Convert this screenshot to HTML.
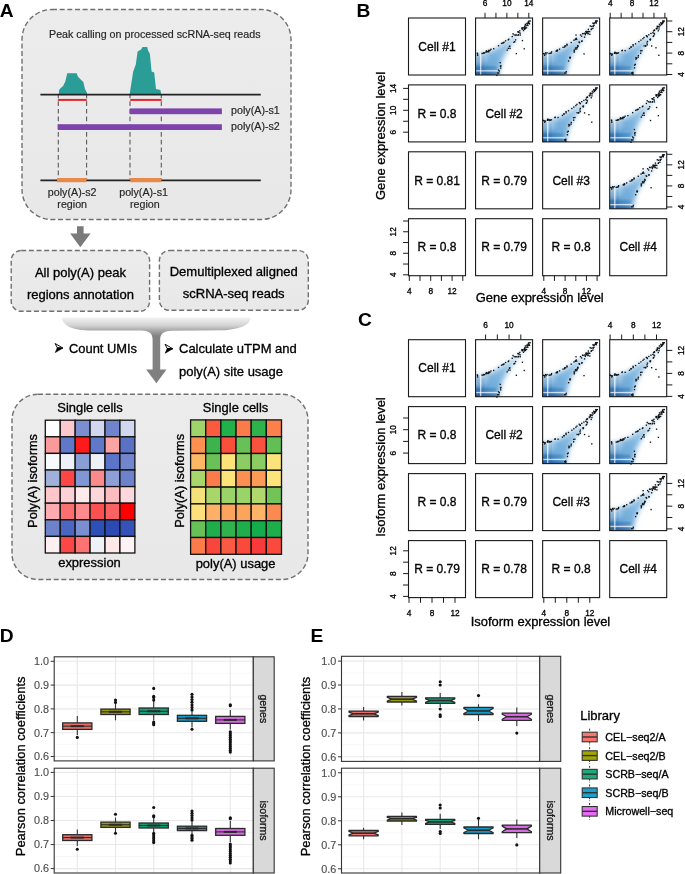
<!DOCTYPE html>
<html><head><meta charset="utf-8"><style>
html,body{margin:0;padding:0;background:#fff;}
svg{display:block;opacity:0.999;}
text{font-family:"Liberation Sans", sans-serif;}
</style></head><body>
<svg width="685" height="874" viewBox="0 0 685 874">
<defs>
<linearGradient id="bgg" x1="0" y1="0" x2="0" y2="1"><stop offset="0" stop-color="#ececec"/><stop offset="1" stop-color="#e8e8e8"/></linearGradient>
<linearGradient id="brg" x1="0" y1="317" x2="0" y2="336" gradientUnits="userSpaceOnUse"><stop offset="0" stop-color="#f5f5f5"/><stop offset="0.45" stop-color="#d2d2d2"/><stop offset="0.72" stop-color="#a6a6a6"/><stop offset="1" stop-color="#828282"/></linearGradient>
<linearGradient id="scg" x1="0" y1="57" x2="52" y2="4" gradientUnits="userSpaceOnUse"><stop offset="0" stop-color="#5b9bd0"/><stop offset="0.35" stop-color="#78b1dd"/><stop offset="0.65" stop-color="#a0cae9"/><stop offset="1" stop-color="#d5e9f7"/></linearGradient>
<radialGradient id="scr" cx="0" cy="0" r="1" gradientUnits="userSpaceOnUse" gradientTransform="translate(-1 59) scale(27 17)"><stop offset="0" stop-color="#154d8d" stop-opacity="0.9"/><stop offset="0.55" stop-color="#2a6cae" stop-opacity="0.5"/><stop offset="1" stop-color="#5b9ace" stop-opacity="0"/></radialGradient>
<filter id="blur1" x="-10%" y="-50%" width="120%" height="200%"><feGaussianBlur stdDeviation="0.8"/></filter>
<clipPath id="pclip"><rect x="0" y="0" width="57" height="57"/></clipPath>
<filter id="blur" x="-20%" y="-20%" width="140%" height="140%"><feGaussianBlur stdDeviation="2.6"/></filter>

</defs>
<text x="-0.30" y="16.90" font-size="19.2" fill="#000" text-anchor="start" font-weight="bold">A</text>
<rect x="22" y="9.5" width="269" height="210" rx="30" ry="30" stroke="#707070" stroke-width="1.4" stroke-dasharray="5 2.66" fill="url(#bgg)"/>
<text x="49.00" y="37.70" font-size="10.7" fill="#262626" text-anchor="start" stroke="#262626" stroke-width="0.18">Peak calling on processed scRNA-seq reads</text>
<polygon fill="#2a9d96" points="58.8,94 59.1,89.9 60.5,88.2 63.1,85.9 65.4,81.2 67.2,73.3 76.6,73.3 78,76.8 80.7,79.4 83.3,82 85,89 86.8,92.6 87.1,94"/>
<polygon fill="#2a9d96" points="129.7,94 131,85.5 133.2,71.5 135.8,64.5 137.6,51.4 141.1,49.6 142.5,47 147.2,47 148.1,50.5 149.9,54 151.6,71.5 154.2,72.4 156,89 160.4,90 161.2,94"/>
<line x1="58.3" y1="95" x2="58.3" y2="179" stroke="#5a5a5a" stroke-width="1.1" stroke-dasharray="4.7 3" stroke-dashoffset="1.5"/>
<line x1="86.6" y1="95" x2="86.6" y2="179" stroke="#5a5a5a" stroke-width="1.1" stroke-dasharray="4.7 3" stroke-dashoffset="1.5"/>
<line x1="130.0" y1="95" x2="130.0" y2="179" stroke="#5a5a5a" stroke-width="1.1" stroke-dasharray="4.7 3" stroke-dashoffset="1.5"/>
<line x1="161.3" y1="95" x2="161.3" y2="179" stroke="#5a5a5a" stroke-width="1.1" stroke-dasharray="4.7 3" stroke-dashoffset="1.5"/>
<line x1="40.4" y1="94.6" x2="260.8" y2="94.6" stroke="#222" stroke-width="1.8"/>
<line x1="57.9" y1="99.9" x2="86.8" y2="99.9" stroke="#e8242a" stroke-width="2"/>
<line x1="130.2" y1="99.9" x2="161.6" y2="99.9" stroke="#e8242a" stroke-width="2"/>
<rect x="129.8" y="108.4" width="92.1" height="5.8" fill="#7f44ac"/>
<rect x="57.8" y="124.2" width="164.1" height="5.8" fill="#7f44ac"/>
<text x="231.10" y="114.00" font-size="10.7" fill="#262626" text-anchor="start" stroke="#262626" stroke-width="0.18">poly(A)-s1</text>
<text x="231.10" y="130.00" font-size="10.7" fill="#262626" text-anchor="start" stroke="#262626" stroke-width="0.18">poly(A)-s2</text>
<line x1="40.4" y1="180.3" x2="260.8" y2="180.3" stroke="#222" stroke-width="1.8"/>
<rect x="57" y="178" width="29.5" height="4.2" fill="#e8894a"/>
<rect x="130.3" y="178" width="31" height="4.2" fill="#e8894a"/>
<text x="72.20" y="195.50" font-size="10.7" fill="#262626" text-anchor="middle" stroke="#262626" stroke-width="0.18">poly(A)-s2</text>
<text x="72.20" y="208.00" font-size="10.7" fill="#262626" text-anchor="middle" stroke="#262626" stroke-width="0.18">region</text>
<text x="143.60" y="195.50" font-size="10.7" fill="#262626" text-anchor="middle" stroke="#262626" stroke-width="0.18">poly(A)-s1</text>
<text x="144.80" y="208.00" font-size="10.7" fill="#262626" text-anchor="middle" stroke="#262626" stroke-width="0.18">region</text>
<polygon fill="#7a7a7a" points="77,226.2 83.6,226.2 83.6,233.6 90.6,233.6 80.3,247.3 70.2,233.6 77,233.6"/>
<rect x="11.2" y="250.5" width="138.4" height="60.8" rx="10" ry="10" stroke="#707070" stroke-width="1.4" stroke-dasharray="5 2.66" fill="url(#bgg)"/>
<rect x="159.4" y="250.5" width="148.9" height="59.8" rx="10" ry="10" stroke="#707070" stroke-width="1.4" stroke-dasharray="5 2.66" fill="url(#bgg)"/>
<text x="80.40" y="277.00" font-size="13.0" fill="#000" text-anchor="middle" stroke="#000" stroke-width="0.32">All poly(A) peak</text>
<text x="80.40" y="299.40" font-size="13.0" fill="#000" text-anchor="middle" stroke="#000" stroke-width="0.32">regions annotation</text>
<text x="233.70" y="275.80" font-size="13.0" fill="#000" text-anchor="middle" stroke="#000" stroke-width="0.32">Demultiplexed aligned</text>
<text x="233.70" y="298.00" font-size="13.0" fill="#000" text-anchor="middle" stroke="#000" stroke-width="0.32">scRNA-seq reads</text>
<path fill="url(#brg)" d="M62,317.6 L250.5,317.6 C250.5,323.5 244,328.5 226,330.2 L172,330.8 C163,331 160.2,334 160.2,340 L160.2,370 L152.6,370 L152.6,340 C152.6,334 150,330.8 141,330.6 L88,330.4 C72,330.4 62,325 62,317.6 Z"/>
<polygon fill="#808080" points="152.6,369.5 160.2,369.5 166.5,369.5 156.4,383.3 146.2,369.5"/>
<polygon points="55.10,343.50 62.80,348.00 57.30,347.80" fill="#fff" stroke="#111" stroke-width="1" stroke-linejoin="round"/>
<polygon points="57.30,347.80 63.00,348.00 55.30,352.50" fill="#000" stroke="#000" stroke-width="0.6" stroke-linejoin="round"/>
<text x="69.00" y="352.70" font-size="12.9" fill="#000" text-anchor="start" stroke="#000" stroke-width="0.32">Count UMIs</text>
<polygon points="165.00,344.20 172.70,348.70 167.20,348.50" fill="#fff" stroke="#111" stroke-width="1" stroke-linejoin="round"/>
<polygon points="167.20,348.50 172.90,348.70 165.20,353.20" fill="#000" stroke="#000" stroke-width="0.6" stroke-linejoin="round"/>
<text x="179.00" y="353.40" font-size="13.0" fill="#000" text-anchor="start" stroke="#000" stroke-width="0.32">Calculate uTPM and</text>
<text x="179.00" y="375.80" font-size="13.0" fill="#000" text-anchor="start" stroke="#000" stroke-width="0.32">poly(A) site usage</text>
<rect x="12" y="394.2" width="296" height="185.3" rx="26" ry="26" stroke="#707070" stroke-width="1.4" stroke-dasharray="5 2.66" fill="url(#bgg)"/>
<text x="90.00" y="411.50" font-size="12.95" fill="#000" text-anchor="middle" stroke="#000" stroke-width="0.32">Single cells</text>
<text x="235.60" y="412.30" font-size="12.95" fill="#000" text-anchor="middle" stroke="#000" stroke-width="0.32">Single cells</text>
<text x="89.50" y="567.00" font-size="12.95" fill="#000" text-anchor="middle" stroke="#000" stroke-width="0.32">expression</text>
<text x="235.60" y="567.50" font-size="12.95" fill="#000" text-anchor="middle" stroke="#000" stroke-width="0.32">poly(A) usage</text>
<text x="37.00" y="527.90" font-size="12.8" fill="#000" text-anchor="start" stroke="#000" stroke-width="0.32" transform="rotate(-90 37 527.9)">Poly(A) isoforms</text>
<text x="184.50" y="527.80" font-size="12.8" fill="#000" text-anchor="start" stroke="#000" stroke-width="0.32" transform="rotate(-90 184.5 527.8)">Poly(A) isoforms</text>
<rect x="45.30" y="420.20" width="14.93" height="16.60" fill="#fdfdfe" stroke="#111" stroke-width="1.3"/>
<rect x="60.23" y="420.20" width="14.93" height="16.60" fill="#fcc8cc" stroke="#111" stroke-width="1.3"/>
<rect x="75.16" y="420.20" width="14.93" height="16.60" fill="#7b8fd0" stroke="#111" stroke-width="1.3"/>
<rect x="90.09" y="420.20" width="14.93" height="16.60" fill="#d0d7ef" stroke="#111" stroke-width="1.3"/>
<rect x="105.02" y="420.20" width="14.93" height="16.60" fill="#6f84cc" stroke="#111" stroke-width="1.3"/>
<rect x="119.95" y="420.20" width="14.93" height="16.60" fill="#d0d7ef" stroke="#111" stroke-width="1.3"/>
<rect x="45.30" y="436.80" width="14.93" height="16.60" fill="#fb9a9c" stroke="#111" stroke-width="1.3"/>
<rect x="60.23" y="436.80" width="14.93" height="16.60" fill="#5f78c8" stroke="#111" stroke-width="1.3"/>
<rect x="75.16" y="436.80" width="14.93" height="16.60" fill="#fe1a1a" stroke="#111" stroke-width="1.3"/>
<rect x="90.09" y="436.80" width="14.93" height="16.60" fill="#5f78c8" stroke="#111" stroke-width="1.3"/>
<rect x="105.02" y="436.80" width="14.93" height="16.60" fill="#fca4a4" stroke="#111" stroke-width="1.3"/>
<rect x="119.95" y="436.80" width="14.93" height="16.60" fill="#5a72c5" stroke="#111" stroke-width="1.3"/>
<rect x="45.30" y="453.40" width="14.93" height="16.60" fill="#f8f9fd" stroke="#111" stroke-width="1.3"/>
<rect x="60.23" y="453.40" width="14.93" height="16.60" fill="#eef0f8" stroke="#111" stroke-width="1.3"/>
<rect x="75.16" y="453.40" width="14.93" height="16.60" fill="#8a9ed6" stroke="#111" stroke-width="1.3"/>
<rect x="90.09" y="453.40" width="14.93" height="16.60" fill="#eef0f8" stroke="#111" stroke-width="1.3"/>
<rect x="105.02" y="453.40" width="14.93" height="16.60" fill="#5c74c7" stroke="#111" stroke-width="1.3"/>
<rect x="119.95" y="453.40" width="14.93" height="16.60" fill="#7186cc" stroke="#111" stroke-width="1.3"/>
<rect x="45.30" y="470.00" width="14.93" height="16.60" fill="#a0b0da" stroke="#111" stroke-width="1.3"/>
<rect x="60.23" y="470.00" width="14.93" height="16.60" fill="#fd4646" stroke="#111" stroke-width="1.3"/>
<rect x="75.16" y="470.00" width="14.93" height="16.60" fill="#8197d3" stroke="#111" stroke-width="1.3"/>
<rect x="90.09" y="470.00" width="14.93" height="16.60" fill="#fc8a8c" stroke="#111" stroke-width="1.3"/>
<rect x="105.02" y="470.00" width="14.93" height="16.60" fill="#8d9fd6" stroke="#111" stroke-width="1.3"/>
<rect x="119.95" y="470.00" width="14.93" height="16.60" fill="#6c82cb" stroke="#111" stroke-width="1.3"/>
<rect x="45.30" y="486.60" width="14.93" height="16.60" fill="#fcc6ca" stroke="#111" stroke-width="1.3"/>
<rect x="60.23" y="486.60" width="14.93" height="16.60" fill="#fcd0d4" stroke="#111" stroke-width="1.3"/>
<rect x="75.16" y="486.60" width="14.93" height="16.60" fill="#feeaea" stroke="#111" stroke-width="1.3"/>
<rect x="90.09" y="486.60" width="14.93" height="16.60" fill="#fdd6da" stroke="#111" stroke-width="1.3"/>
<rect x="105.02" y="486.60" width="14.93" height="16.60" fill="#fcbcc0" stroke="#111" stroke-width="1.3"/>
<rect x="119.95" y="486.60" width="14.93" height="16.60" fill="#fcd8dc" stroke="#111" stroke-width="1.3"/>
<rect x="45.30" y="503.20" width="14.93" height="16.60" fill="#fcabb0" stroke="#111" stroke-width="1.3"/>
<rect x="60.23" y="503.20" width="14.93" height="16.60" fill="#fd7070" stroke="#111" stroke-width="1.3"/>
<rect x="75.16" y="503.20" width="14.93" height="16.60" fill="#fd8a8c" stroke="#111" stroke-width="1.3"/>
<rect x="90.09" y="503.20" width="14.93" height="16.60" fill="#fd5050" stroke="#111" stroke-width="1.3"/>
<rect x="105.02" y="503.20" width="14.93" height="16.60" fill="#fd6262" stroke="#111" stroke-width="1.3"/>
<rect x="119.95" y="503.20" width="14.93" height="16.60" fill="#ff0000" stroke="#111" stroke-width="1.3"/>
<rect x="45.30" y="519.80" width="14.93" height="16.60" fill="#6c82cb" stroke="#111" stroke-width="1.3"/>
<rect x="60.23" y="519.80" width="14.93" height="16.60" fill="#4a66c1" stroke="#111" stroke-width="1.3"/>
<rect x="75.16" y="519.80" width="14.93" height="16.60" fill="#7b8fd0" stroke="#111" stroke-width="1.3"/>
<rect x="90.09" y="519.80" width="14.93" height="16.60" fill="#2f4fb8" stroke="#111" stroke-width="1.3"/>
<rect x="105.02" y="519.80" width="14.93" height="16.60" fill="#2c4ab2" stroke="#111" stroke-width="1.3"/>
<rect x="119.95" y="519.80" width="14.93" height="16.60" fill="#3552b8" stroke="#111" stroke-width="1.3"/>
<rect x="45.30" y="536.40" width="14.93" height="16.60" fill="#fef0f0" stroke="#111" stroke-width="1.3"/>
<rect x="60.23" y="536.40" width="14.93" height="16.60" fill="#fd4646" stroke="#111" stroke-width="1.3"/>
<rect x="75.16" y="536.40" width="14.93" height="16.60" fill="#fd7272" stroke="#111" stroke-width="1.3"/>
<rect x="90.09" y="536.40" width="14.93" height="16.60" fill="#eef2f6" stroke="#111" stroke-width="1.3"/>
<rect x="105.02" y="536.40" width="14.93" height="16.60" fill="#fee8e8" stroke="#111" stroke-width="1.3"/>
<rect x="119.95" y="536.40" width="14.93" height="16.60" fill="#fdf2f4" stroke="#111" stroke-width="1.3"/>
<rect x="190.60" y="419.90" width="15.15" height="16.80" fill="#9fd46a" stroke="#111" stroke-width="1.3"/>
<rect x="205.75" y="419.90" width="15.15" height="16.80" fill="#fa5a3e" stroke="#111" stroke-width="1.3"/>
<rect x="220.90" y="419.90" width="15.15" height="16.80" fill="#22b04a" stroke="#111" stroke-width="1.3"/>
<rect x="236.05" y="419.90" width="15.15" height="16.80" fill="#fb7c4a" stroke="#111" stroke-width="1.3"/>
<rect x="251.20" y="419.90" width="15.15" height="16.80" fill="#2fb14c" stroke="#111" stroke-width="1.3"/>
<rect x="266.35" y="419.90" width="15.15" height="16.80" fill="#fb804c" stroke="#111" stroke-width="1.3"/>
<rect x="190.60" y="436.70" width="15.15" height="16.80" fill="#fc9150" stroke="#111" stroke-width="1.3"/>
<rect x="205.75" y="436.70" width="15.15" height="16.80" fill="#3cb34d" stroke="#111" stroke-width="1.3"/>
<rect x="220.90" y="436.70" width="15.15" height="16.80" fill="#f9503c" stroke="#111" stroke-width="1.3"/>
<rect x="236.05" y="436.70" width="15.15" height="16.80" fill="#68c156" stroke="#111" stroke-width="1.3"/>
<rect x="251.20" y="436.70" width="15.15" height="16.80" fill="#f9523e" stroke="#111" stroke-width="1.3"/>
<rect x="266.35" y="436.70" width="15.15" height="16.80" fill="#62bf54" stroke="#111" stroke-width="1.3"/>
<rect x="190.60" y="453.50" width="15.15" height="16.80" fill="#fdb866" stroke="#111" stroke-width="1.3"/>
<rect x="205.75" y="453.50" width="15.15" height="16.80" fill="#6ac157" stroke="#111" stroke-width="1.3"/>
<rect x="220.90" y="453.50" width="15.15" height="16.80" fill="#fde47a" stroke="#111" stroke-width="1.3"/>
<rect x="236.05" y="453.50" width="15.15" height="16.80" fill="#8ccd63" stroke="#111" stroke-width="1.3"/>
<rect x="251.20" y="453.50" width="15.15" height="16.80" fill="#8ccd63" stroke="#111" stroke-width="1.3"/>
<rect x="266.35" y="453.50" width="15.15" height="16.80" fill="#fde47a" stroke="#111" stroke-width="1.3"/>
<rect x="190.60" y="470.30" width="15.15" height="16.80" fill="#a8d66a" stroke="#111" stroke-width="1.3"/>
<rect x="205.75" y="470.30" width="15.15" height="16.80" fill="#fb7c4a" stroke="#111" stroke-width="1.3"/>
<rect x="220.90" y="470.30" width="15.15" height="16.80" fill="#fde47a" stroke="#111" stroke-width="1.3"/>
<rect x="236.05" y="470.30" width="15.15" height="16.80" fill="#fc9050" stroke="#111" stroke-width="1.3"/>
<rect x="251.20" y="470.30" width="15.15" height="16.80" fill="#fc9a56" stroke="#111" stroke-width="1.3"/>
<rect x="266.35" y="470.30" width="15.15" height="16.80" fill="#fde47a" stroke="#111" stroke-width="1.3"/>
<rect x="190.60" y="487.10" width="15.15" height="16.80" fill="#f3e27a" stroke="#111" stroke-width="1.3"/>
<rect x="205.75" y="487.10" width="15.15" height="16.80" fill="#a8d66a" stroke="#111" stroke-width="1.3"/>
<rect x="220.90" y="487.10" width="15.15" height="16.80" fill="#9ad468" stroke="#111" stroke-width="1.3"/>
<rect x="236.05" y="487.10" width="15.15" height="16.80" fill="#9ad468" stroke="#111" stroke-width="1.3"/>
<rect x="251.20" y="487.10" width="15.15" height="16.80" fill="#b0d86c" stroke="#111" stroke-width="1.3"/>
<rect x="266.35" y="487.10" width="15.15" height="16.80" fill="#72c458" stroke="#111" stroke-width="1.3"/>
<rect x="190.60" y="503.90" width="15.15" height="16.80" fill="#fde07a" stroke="#111" stroke-width="1.3"/>
<rect x="205.75" y="503.90" width="15.15" height="16.80" fill="#fdb066" stroke="#111" stroke-width="1.3"/>
<rect x="220.90" y="503.90" width="15.15" height="16.80" fill="#fca45c" stroke="#111" stroke-width="1.3"/>
<rect x="236.05" y="503.90" width="15.15" height="16.80" fill="#fca45c" stroke="#111" stroke-width="1.3"/>
<rect x="251.20" y="503.90" width="15.15" height="16.80" fill="#fdb466" stroke="#111" stroke-width="1.3"/>
<rect x="266.35" y="503.90" width="15.15" height="16.80" fill="#fc8a50" stroke="#111" stroke-width="1.3"/>
<rect x="190.60" y="520.70" width="15.15" height="16.80" fill="#68c156" stroke="#111" stroke-width="1.3"/>
<rect x="205.75" y="520.70" width="15.15" height="16.80" fill="#1eaf4c" stroke="#111" stroke-width="1.3"/>
<rect x="220.90" y="520.70" width="15.15" height="16.80" fill="#30b24e" stroke="#111" stroke-width="1.3"/>
<rect x="236.05" y="520.70" width="15.15" height="16.80" fill="#1eaf4c" stroke="#111" stroke-width="1.3"/>
<rect x="251.20" y="520.70" width="15.15" height="16.80" fill="#14ad4c" stroke="#111" stroke-width="1.3"/>
<rect x="266.35" y="520.70" width="15.15" height="16.80" fill="#1eaf4c" stroke="#111" stroke-width="1.3"/>
<rect x="190.60" y="537.50" width="15.15" height="16.80" fill="#fb7c4a" stroke="#111" stroke-width="1.3"/>
<rect x="205.75" y="537.50" width="15.15" height="16.80" fill="#f9463c" stroke="#111" stroke-width="1.3"/>
<rect x="220.90" y="537.50" width="15.15" height="16.80" fill="#f95a42" stroke="#111" stroke-width="1.3"/>
<rect x="236.05" y="537.50" width="15.15" height="16.80" fill="#f94a3c" stroke="#111" stroke-width="1.3"/>
<rect x="251.20" y="537.50" width="15.15" height="16.80" fill="#f93a3a" stroke="#111" stroke-width="1.3"/>
<rect x="266.35" y="537.50" width="15.15" height="16.80" fill="#f94a3c" stroke="#111" stroke-width="1.3"/>
<text x="356.50" y="16.90" font-size="19.2" fill="#000" text-anchor="start" font-weight="bold">B</text>
<rect x="408.50" y="18.00" width="57.0" height="57.0" fill="none" stroke="#1a1a1a" stroke-width="1.1"/>
<text x="437.00" y="50.70" font-size="12.0" fill="#000" text-anchor="middle" stroke="#000" stroke-width="0.32">Cell #1</text>
<g transform="translate(475.57,18.00)"><g>
<g clip-path="url(#pclip)">
<polygon points="-3,60 -3,37 8,35.5 17,32.5 31,23.5 42,16 55,2.5 56.5,4 47.5,13.5 42,19.5 33.5,30.5 27,41.5 23,57 22,60" fill="url(#scg)" filter="url(#blur)"/>
<rect x="-3" y="25" width="45" height="35" fill="url(#scr)"/>
<polygon points="-2,36 10,35 14,40 6,46 -2,46" fill="#fff" opacity="0.35" filter="url(#blur)"/>
<rect x="0" y="48.8" width="21" height="2.0" fill="#2464a4" opacity="0.5" filter="url(#blur1)"/>
<rect x="0" y="54.6" width="22" height="2.6" fill="#1a5494" opacity="0.6" filter="url(#blur1)"/>
<rect x="1.8" y="38" width="1.8" height="19" fill="#2464a4" opacity="0.35" filter="url(#blur1)"/>
<rect x="7.2" y="38" width="1.6" height="19" fill="#2464a4" opacity="0.25" filter="url(#blur1)"/>
<rect x="4.4" y="35" width="1.3" height="23" fill="#fff" opacity="0.7"/>
<rect x="0" y="52.2" width="23" height="1.3" fill="#fff" opacity="0.7"/>
</g>
<rect x="12.90" y="31.87" width="1.35" height="1.35" fill="#111"/>
<rect x="13.77" y="31.77" width="1.35" height="1.35" fill="#111"/>
<rect x="29.34" y="22.16" width="1.35" height="1.35" fill="#111"/>
<rect x="17.45" y="30.07" width="1.35" height="1.35" fill="#111"/>
<rect x="39.59" y="16.43" width="1.35" height="1.35" fill="#111"/>
<rect x="50.67" y="4.75" width="1.35" height="1.35" fill="#111"/>
<rect x="42.19" y="13.21" width="1.35" height="1.35" fill="#111"/>
<rect x="39.83" y="16.29" width="1.35" height="1.35" fill="#111"/>
<rect x="14.71" y="30.60" width="1.35" height="1.35" fill="#111"/>
<rect x="51.98" y="4.27" width="1.35" height="1.35" fill="#111"/>
<rect x="32.49" y="20.58" width="1.35" height="1.35" fill="#111"/>
<rect x="46.10" y="9.66" width="1.35" height="1.35" fill="#111"/>
<rect x="8.27" y="34.29" width="1.35" height="1.35" fill="#111"/>
<rect x="10.56" y="33.14" width="1.35" height="1.35" fill="#111"/>
<rect x="10.98" y="32.89" width="1.35" height="1.35" fill="#111"/>
<rect x="27.03" y="23.95" width="1.35" height="1.35" fill="#111"/>
<rect x="7.61" y="34.06" width="1.35" height="1.35" fill="#111"/>
<rect x="32.00" y="21.16" width="1.35" height="1.35" fill="#111"/>
<rect x="45.97" y="9.38" width="1.35" height="1.35" fill="#111"/>
<rect x="10.10" y="32.19" width="1.35" height="1.35" fill="#111"/>
<rect x="37.98" y="16.27" width="1.35" height="1.35" fill="#111"/>
<rect x="49.73" y="7.00" width="1.35" height="1.35" fill="#111"/>
<rect x="45.88" y="10.32" width="1.35" height="1.35" fill="#111"/>
<rect x="52.25" y="3.84" width="1.35" height="1.35" fill="#111"/>
<rect x="48.45" y="8.09" width="1.35" height="1.35" fill="#111"/>
<rect x="12.61" y="31.77" width="1.35" height="1.35" fill="#111"/>
<rect x="25.26" y="24.78" width="1.35" height="1.35" fill="#111"/>
<rect x="22.29" y="27.05" width="1.35" height="1.35" fill="#111"/>
<rect x="9.65" y="33.42" width="1.35" height="1.35" fill="#111"/>
<rect x="1.12" y="34.54" width="1.35" height="1.35" fill="#111"/>
<rect x="11.78" y="32.78" width="1.35" height="1.35" fill="#111"/>
<rect x="26.60" y="24.43" width="1.35" height="1.35" fill="#111"/>
<rect x="27.82" y="23.67" width="1.35" height="1.35" fill="#111"/>
<rect x="43.53" y="12.07" width="1.35" height="1.35" fill="#111"/>
<rect x="36.00" y="17.90" width="1.35" height="1.35" fill="#111"/>
<rect x="48.62" y="7.36" width="1.35" height="1.35" fill="#111"/>
<rect x="12.45" y="33.07" width="1.35" height="1.35" fill="#111"/>
<rect x="41.66" y="13.17" width="1.35" height="1.35" fill="#111"/>
<rect x="46.58" y="10.31" width="1.35" height="1.35" fill="#111"/>
<rect x="42.72" y="13.68" width="1.35" height="1.35" fill="#111"/>
<rect x="22.25" y="51.41" width="1.35" height="1.35" fill="#111"/>
<rect x="24.66" y="47.07" width="1.35" height="1.35" fill="#111"/>
<rect x="48.26" y="9.84" width="1.35" height="1.35" fill="#111"/>
<rect x="50.92" y="6.65" width="1.35" height="1.35" fill="#111"/>
<rect x="23.05" y="52.34" width="1.35" height="1.35" fill="#111"/>
<rect x="37.62" y="23.61" width="1.35" height="1.35" fill="#111"/>
<rect x="20.63" y="56.74" width="1.35" height="1.35" fill="#111"/>
<rect x="23.99" y="43.97" width="1.35" height="1.35" fill="#111"/>
<rect x="42.24" y="16.02" width="1.35" height="1.35" fill="#111"/>
<rect x="48.77" y="9.90" width="1.35" height="1.35" fill="#111"/>
<rect x="50.27" y="9.10" width="1.35" height="1.35" fill="#111"/>
<rect x="44.02" y="16.37" width="1.35" height="1.35" fill="#111"/>
<rect x="32.13" y="29.70" width="1.35" height="1.35" fill="#111"/>
<rect x="24.44" y="49.45" width="1.35" height="1.35" fill="#111"/>
<rect x="48.34" y="10.62" width="1.35" height="1.35" fill="#111"/>
<rect x="39.34" y="21.22" width="1.35" height="1.35" fill="#111"/>
<rect x="33.79" y="29.78" width="1.35" height="1.35" fill="#111"/>
<rect x="24.29" y="47.71" width="1.35" height="1.35" fill="#111"/>
<rect x="53.31" y="5.04" width="1.35" height="1.35" fill="#111"/>
<rect x="47.26" y="11.86" width="1.35" height="1.35" fill="#111"/>
<rect x="38.50" y="23.02" width="1.35" height="1.35" fill="#111"/>
<rect x="30.92" y="31.47" width="1.35" height="1.35" fill="#111"/>
<rect x="48.57" y="9.41" width="1.35" height="1.35" fill="#111"/>
<rect x="49.14" y="9.56" width="1.35" height="1.35" fill="#111"/>
<rect x="53.00" y="4.85" width="1.35" height="1.35" fill="#111"/>
<rect x="33.19" y="27.86" width="1.35" height="1.35" fill="#111"/>
<rect x="33.60" y="27.46" width="1.35" height="1.35" fill="#111"/>
<rect x="51.62" y="6.78" width="1.35" height="1.35" fill="#111"/>
<rect x="47.64" y="8.90" width="1.35" height="1.35" fill="#111"/>
<rect x="41.73" y="16.61" width="1.35" height="1.35" fill="#111"/>
<rect x="52.67" y="4.61" width="1.35" height="1.35" fill="#111"/>
<rect x="45.83" y="9.29" width="1.35" height="1.35" fill="#111"/>
<rect x="43.88" y="14.52" width="1.35" height="1.35" fill="#111"/>
<rect x="49.23" y="9.47" width="1.35" height="1.35" fill="#111"/>
<rect x="52.17" y="2.94" width="1.35" height="1.35" fill="#111"/>
<rect x="52.08" y="4.31" width="1.35" height="1.35" fill="#111"/>
<rect x="51.04" y="5.35" width="1.35" height="1.35" fill="#111"/>
<rect x="49.11" y="5.64" width="1.35" height="1.35" fill="#111"/>
<rect x="46.18" y="21.91" width="1.35" height="1.35" fill="#111"/>
<rect x="47.98" y="30.13" width="1.35" height="1.35" fill="#111"/>
<rect x="40.11" y="34.92" width="1.35" height="1.35" fill="#111"/>
<rect x="36.79" y="15.14" width="1.35" height="1.35" fill="#111"/>
<rect x="52.83" y="2.33" width="1.35" height="1.35" fill="#111"/>
<rect x="53.93" y="2.33" width="1.35" height="1.35" fill="#111"/>
<rect x="21.33" y="54.33" width="1.35" height="1.35" fill="#111"/>
<rect x="22.53" y="54.33" width="1.35" height="1.35" fill="#111"/>
<rect x="1.33" y="35.33" width="1.35" height="1.35" fill="#111"/>
<rect x="1.33" y="36.63" width="1.35" height="1.35" fill="#111"/>
<rect x="5.83" y="34.83" width="1.35" height="1.35" fill="#111"/>
<rect x="6.93" y="34.63" width="1.35" height="1.35" fill="#111"/>
</g></g>
<rect x="475.57" y="18.00" width="57.0" height="57.0" fill="none" stroke="#1a1a1a" stroke-width="1.1"/>
<g transform="translate(542.64,18.00)"><g>
<g clip-path="url(#pclip)">
<polygon points="-3,60 -3,37 8,35.5 17,32.5 31,23.5 42,16 55,2.5 56.5,4 47.5,13.5 42,19.5 33.5,30.5 27,41.5 23,57 22,60" fill="url(#scg)" filter="url(#blur)"/>
<rect x="-3" y="25" width="45" height="35" fill="url(#scr)"/>
<polygon points="-2,36 10,35 14,40 6,46 -2,46" fill="#fff" opacity="0.35" filter="url(#blur)"/>
<rect x="0" y="48.8" width="21" height="2.0" fill="#2464a4" opacity="0.5" filter="url(#blur1)"/>
<rect x="0" y="54.6" width="22" height="2.6" fill="#1a5494" opacity="0.6" filter="url(#blur1)"/>
<rect x="1.8" y="38" width="1.8" height="19" fill="#2464a4" opacity="0.35" filter="url(#blur1)"/>
<rect x="7.2" y="38" width="1.6" height="19" fill="#2464a4" opacity="0.25" filter="url(#blur1)"/>
<rect x="4.4" y="35" width="1.3" height="23" fill="#fff" opacity="0.7"/>
<rect x="0" y="52.2" width="23" height="1.3" fill="#fff" opacity="0.7"/>
</g>
<rect x="0.07" y="35.03" width="1.35" height="1.35" fill="#111"/>
<rect x="39.26" y="14.92" width="1.35" height="1.35" fill="#111"/>
<rect x="16.26" y="30.49" width="1.35" height="1.35" fill="#111"/>
<rect x="42.55" y="12.87" width="1.35" height="1.35" fill="#111"/>
<rect x="32.20" y="20.47" width="1.35" height="1.35" fill="#111"/>
<rect x="52.69" y="2.31" width="1.35" height="1.35" fill="#111"/>
<rect x="50.69" y="4.86" width="1.35" height="1.35" fill="#111"/>
<rect x="21.27" y="28.38" width="1.35" height="1.35" fill="#111"/>
<rect x="14.24" y="31.65" width="1.35" height="1.35" fill="#111"/>
<rect x="33.40" y="20.75" width="1.35" height="1.35" fill="#111"/>
<rect x="22.44" y="27.31" width="1.35" height="1.35" fill="#111"/>
<rect x="52.31" y="3.75" width="1.35" height="1.35" fill="#111"/>
<rect x="47.98" y="7.78" width="1.35" height="1.35" fill="#111"/>
<rect x="45.03" y="10.66" width="1.35" height="1.35" fill="#111"/>
<rect x="37.22" y="16.27" width="1.35" height="1.35" fill="#111"/>
<rect x="21.54" y="27.29" width="1.35" height="1.35" fill="#111"/>
<rect x="38.26" y="17.54" width="1.35" height="1.35" fill="#111"/>
<rect x="52.94" y="4.34" width="1.35" height="1.35" fill="#111"/>
<rect x="19.74" y="28.69" width="1.35" height="1.35" fill="#111"/>
<rect x="32.99" y="19.61" width="1.35" height="1.35" fill="#111"/>
<rect x="13.96" y="32.05" width="1.35" height="1.35" fill="#111"/>
<rect x="39.78" y="14.99" width="1.35" height="1.35" fill="#111"/>
<rect x="49.74" y="7.33" width="1.35" height="1.35" fill="#111"/>
<rect x="13.66" y="32.28" width="1.35" height="1.35" fill="#111"/>
<rect x="27.89" y="23.82" width="1.35" height="1.35" fill="#111"/>
<rect x="8.03" y="34.31" width="1.35" height="1.35" fill="#111"/>
<rect x="8.23" y="33.24" width="1.35" height="1.35" fill="#111"/>
<rect x="41.59" y="14.51" width="1.35" height="1.35" fill="#111"/>
<rect x="30.69" y="21.56" width="1.35" height="1.35" fill="#111"/>
<rect x="23.84" y="26.41" width="1.35" height="1.35" fill="#111"/>
<rect x="2.20" y="34.23" width="1.35" height="1.35" fill="#111"/>
<rect x="41.92" y="14.85" width="1.35" height="1.35" fill="#111"/>
<rect x="43.21" y="12.77" width="1.35" height="1.35" fill="#111"/>
<rect x="52.52" y="2.75" width="1.35" height="1.35" fill="#111"/>
<rect x="23.59" y="25.58" width="1.35" height="1.35" fill="#111"/>
<rect x="2.76" y="35.29" width="1.35" height="1.35" fill="#111"/>
<rect x="3.72" y="34.16" width="1.35" height="1.35" fill="#111"/>
<rect x="13.87" y="31.56" width="1.35" height="1.35" fill="#111"/>
<rect x="12.82" y="32.39" width="1.35" height="1.35" fill="#111"/>
<rect x="32.12" y="20.85" width="1.35" height="1.35" fill="#111"/>
<rect x="33.62" y="29.00" width="1.35" height="1.35" fill="#111"/>
<rect x="26.60" y="38.73" width="1.35" height="1.35" fill="#111"/>
<rect x="49.50" y="9.76" width="1.35" height="1.35" fill="#111"/>
<rect x="22.89" y="52.99" width="1.35" height="1.35" fill="#111"/>
<rect x="47.94" y="10.85" width="1.35" height="1.35" fill="#111"/>
<rect x="36.23" y="23.88" width="1.35" height="1.35" fill="#111"/>
<rect x="41.26" y="18.49" width="1.35" height="1.35" fill="#111"/>
<rect x="32.04" y="30.41" width="1.35" height="1.35" fill="#111"/>
<rect x="26.72" y="39.53" width="1.35" height="1.35" fill="#111"/>
<rect x="30.89" y="33.48" width="1.35" height="1.35" fill="#111"/>
<rect x="46.40" y="12.97" width="1.35" height="1.35" fill="#111"/>
<rect x="38.48" y="22.70" width="1.35" height="1.35" fill="#111"/>
<rect x="45.36" y="12.77" width="1.35" height="1.35" fill="#111"/>
<rect x="27.05" y="38.73" width="1.35" height="1.35" fill="#111"/>
<rect x="50.71" y="6.76" width="1.35" height="1.35" fill="#111"/>
<rect x="34.87" y="27.52" width="1.35" height="1.35" fill="#111"/>
<rect x="42.01" y="16.00" width="1.35" height="1.35" fill="#111"/>
<rect x="34.36" y="26.93" width="1.35" height="1.35" fill="#111"/>
<rect x="52.61" y="3.41" width="1.35" height="1.35" fill="#111"/>
<rect x="25.26" y="42.30" width="1.35" height="1.35" fill="#111"/>
<rect x="31.09" y="32.42" width="1.35" height="1.35" fill="#111"/>
<rect x="44.70" y="15.21" width="1.35" height="1.35" fill="#111"/>
<rect x="32.22" y="29.28" width="1.35" height="1.35" fill="#111"/>
<rect x="30.84" y="31.50" width="1.35" height="1.35" fill="#111"/>
<rect x="33.41" y="30.29" width="1.35" height="1.35" fill="#111"/>
<rect x="34.08" y="28.52" width="1.35" height="1.35" fill="#111"/>
<rect x="38.71" y="22.29" width="1.35" height="1.35" fill="#111"/>
<rect x="44.79" y="14.63" width="1.35" height="1.35" fill="#111"/>
<rect x="50.54" y="4.94" width="1.35" height="1.35" fill="#111"/>
<rect x="43.31" y="14.39" width="1.35" height="1.35" fill="#111"/>
<rect x="43.35" y="13.94" width="1.35" height="1.35" fill="#111"/>
<rect x="49.84" y="7.86" width="1.35" height="1.35" fill="#111"/>
<rect x="49.58" y="4.49" width="1.35" height="1.35" fill="#111"/>
<rect x="51.61" y="3.99" width="1.35" height="1.35" fill="#111"/>
<rect x="46.89" y="7.28" width="1.35" height="1.35" fill="#111"/>
<rect x="44.16" y="13.06" width="1.35" height="1.35" fill="#111"/>
<rect x="48.15" y="10.38" width="1.35" height="1.35" fill="#111"/>
<rect x="44.77" y="12.92" width="1.35" height="1.35" fill="#111"/>
<rect x="32.71" y="16.39" width="1.35" height="1.35" fill="#111"/>
<rect x="46.51" y="15.64" width="1.35" height="1.35" fill="#111"/>
<rect x="40.72" y="35.25" width="1.35" height="1.35" fill="#111"/>
<rect x="35.78" y="23.28" width="1.35" height="1.35" fill="#111"/>
<rect x="52.83" y="2.33" width="1.35" height="1.35" fill="#111"/>
<rect x="53.93" y="2.33" width="1.35" height="1.35" fill="#111"/>
<rect x="21.33" y="54.33" width="1.35" height="1.35" fill="#111"/>
<rect x="22.53" y="54.33" width="1.35" height="1.35" fill="#111"/>
<rect x="1.33" y="35.33" width="1.35" height="1.35" fill="#111"/>
<rect x="1.33" y="36.63" width="1.35" height="1.35" fill="#111"/>
<rect x="5.83" y="34.83" width="1.35" height="1.35" fill="#111"/>
<rect x="6.93" y="34.63" width="1.35" height="1.35" fill="#111"/>
</g></g>
<rect x="542.64" y="18.00" width="57.0" height="57.0" fill="none" stroke="#1a1a1a" stroke-width="1.1"/>
<g transform="translate(609.71,18.00)"><g>
<g clip-path="url(#pclip)">
<polygon points="-3,60 -3,37 8,35.5 17,32.5 31,23.5 42,16 55,2.5 56.5,4 47.5,13.5 42,19.5 33.5,30.5 27,41.5 23,57 22,60" fill="url(#scg)" filter="url(#blur)"/>
<rect x="-3" y="25" width="45" height="35" fill="url(#scr)"/>
<polygon points="-2,36 10,35 14,40 6,46 -2,46" fill="#fff" opacity="0.35" filter="url(#blur)"/>
<rect x="0" y="48.8" width="21" height="2.0" fill="#2464a4" opacity="0.5" filter="url(#blur1)"/>
<rect x="0" y="54.6" width="22" height="2.6" fill="#1a5494" opacity="0.6" filter="url(#blur1)"/>
<rect x="1.8" y="38" width="1.8" height="19" fill="#2464a4" opacity="0.35" filter="url(#blur1)"/>
<rect x="7.2" y="38" width="1.6" height="19" fill="#2464a4" opacity="0.25" filter="url(#blur1)"/>
<rect x="4.4" y="35" width="1.3" height="23" fill="#fff" opacity="0.7"/>
<rect x="0" y="52.2" width="23" height="1.3" fill="#fff" opacity="0.7"/>
</g>
<rect x="36.95" y="18.09" width="1.35" height="1.35" fill="#111"/>
<rect x="51.21" y="5.91" width="1.35" height="1.35" fill="#111"/>
<rect x="1.90" y="35.65" width="1.35" height="1.35" fill="#111"/>
<rect x="38.44" y="16.11" width="1.35" height="1.35" fill="#111"/>
<rect x="28.52" y="22.97" width="1.35" height="1.35" fill="#111"/>
<rect x="33.62" y="18.84" width="1.35" height="1.35" fill="#111"/>
<rect x="19.15" y="29.86" width="1.35" height="1.35" fill="#111"/>
<rect x="11.64" y="32.03" width="1.35" height="1.35" fill="#111"/>
<rect x="35.94" y="17.00" width="1.35" height="1.35" fill="#111"/>
<rect x="47.58" y="7.65" width="1.35" height="1.35" fill="#111"/>
<rect x="53.04" y="3.30" width="1.35" height="1.35" fill="#111"/>
<rect x="51.77" y="4.76" width="1.35" height="1.35" fill="#111"/>
<rect x="14.75" y="31.94" width="1.35" height="1.35" fill="#111"/>
<rect x="52.41" y="3.95" width="1.35" height="1.35" fill="#111"/>
<rect x="22.70" y="26.01" width="1.35" height="1.35" fill="#111"/>
<rect x="4.49" y="34.58" width="1.35" height="1.35" fill="#111"/>
<rect x="-0.08" y="35.10" width="1.35" height="1.35" fill="#111"/>
<rect x="20.71" y="28.33" width="1.35" height="1.35" fill="#111"/>
<rect x="20.62" y="28.49" width="1.35" height="1.35" fill="#111"/>
<rect x="4.69" y="33.77" width="1.35" height="1.35" fill="#111"/>
<rect x="43.16" y="12.30" width="1.35" height="1.35" fill="#111"/>
<rect x="44.21" y="11.64" width="1.35" height="1.35" fill="#111"/>
<rect x="-0.30" y="34.75" width="1.35" height="1.35" fill="#111"/>
<rect x="51.09" y="5.14" width="1.35" height="1.35" fill="#111"/>
<rect x="50.92" y="5.50" width="1.35" height="1.35" fill="#111"/>
<rect x="22.79" y="27.24" width="1.35" height="1.35" fill="#111"/>
<rect x="8.13" y="34.24" width="1.35" height="1.35" fill="#111"/>
<rect x="46.88" y="9.29" width="1.35" height="1.35" fill="#111"/>
<rect x="6.45" y="34.24" width="1.35" height="1.35" fill="#111"/>
<rect x="49.71" y="6.90" width="1.35" height="1.35" fill="#111"/>
<rect x="32.52" y="19.99" width="1.35" height="1.35" fill="#111"/>
<rect x="11.95" y="31.66" width="1.35" height="1.35" fill="#111"/>
<rect x="40.56" y="14.82" width="1.35" height="1.35" fill="#111"/>
<rect x="4.06" y="34.71" width="1.35" height="1.35" fill="#111"/>
<rect x="25.18" y="25.19" width="1.35" height="1.35" fill="#111"/>
<rect x="45.96" y="9.81" width="1.35" height="1.35" fill="#111"/>
<rect x="4.52" y="33.80" width="1.35" height="1.35" fill="#111"/>
<rect x="30.52" y="21.48" width="1.35" height="1.35" fill="#111"/>
<rect x="42.51" y="14.03" width="1.35" height="1.35" fill="#111"/>
<rect x="43.91" y="11.40" width="1.35" height="1.35" fill="#111"/>
<rect x="48.60" y="10.30" width="1.35" height="1.35" fill="#111"/>
<rect x="36.87" y="26.06" width="1.35" height="1.35" fill="#111"/>
<rect x="21.85" y="54.86" width="1.35" height="1.35" fill="#111"/>
<rect x="26.21" y="39.65" width="1.35" height="1.35" fill="#111"/>
<rect x="37.04" y="22.82" width="1.35" height="1.35" fill="#111"/>
<rect x="22.65" y="55.83" width="1.35" height="1.35" fill="#111"/>
<rect x="33.80" y="27.16" width="1.35" height="1.35" fill="#111"/>
<rect x="43.42" y="17.09" width="1.35" height="1.35" fill="#111"/>
<rect x="39.93" y="21.32" width="1.35" height="1.35" fill="#111"/>
<rect x="27.75" y="38.54" width="1.35" height="1.35" fill="#111"/>
<rect x="39.69" y="20.63" width="1.35" height="1.35" fill="#111"/>
<rect x="35.18" y="27.44" width="1.35" height="1.35" fill="#111"/>
<rect x="42.85" y="17.76" width="1.35" height="1.35" fill="#111"/>
<rect x="30.27" y="32.12" width="1.35" height="1.35" fill="#111"/>
<rect x="44.10" y="15.42" width="1.35" height="1.35" fill="#111"/>
<rect x="24.95" y="45.69" width="1.35" height="1.35" fill="#111"/>
<rect x="40.15" y="20.58" width="1.35" height="1.35" fill="#111"/>
<rect x="24.16" y="46.46" width="1.35" height="1.35" fill="#111"/>
<rect x="24.12" y="49.21" width="1.35" height="1.35" fill="#111"/>
<rect x="22.31" y="53.74" width="1.35" height="1.35" fill="#111"/>
<rect x="47.91" y="12.16" width="1.35" height="1.35" fill="#111"/>
<rect x="35.34" y="27.06" width="1.35" height="1.35" fill="#111"/>
<rect x="25.57" y="40.47" width="1.35" height="1.35" fill="#111"/>
<rect x="31.57" y="31.93" width="1.35" height="1.35" fill="#111"/>
<rect x="30.35" y="34.56" width="1.35" height="1.35" fill="#111"/>
<rect x="25.61" y="38.95" width="1.35" height="1.35" fill="#111"/>
<rect x="36.63" y="24.44" width="1.35" height="1.35" fill="#111"/>
<rect x="27.97" y="36.93" width="1.35" height="1.35" fill="#111"/>
<rect x="46.83" y="7.76" width="1.35" height="1.35" fill="#111"/>
<rect x="50.46" y="4.01" width="1.35" height="1.35" fill="#111"/>
<rect x="49.02" y="5.59" width="1.35" height="1.35" fill="#111"/>
<rect x="48.89" y="8.25" width="1.35" height="1.35" fill="#111"/>
<rect x="51.18" y="4.74" width="1.35" height="1.35" fill="#111"/>
<rect x="47.65" y="8.02" width="1.35" height="1.35" fill="#111"/>
<rect x="52.18" y="4.36" width="1.35" height="1.35" fill="#111"/>
<rect x="52.31" y="2.56" width="1.35" height="1.35" fill="#111"/>
<rect x="46.44" y="10.24" width="1.35" height="1.35" fill="#111"/>
<rect x="43.68" y="14.71" width="1.35" height="1.35" fill="#111"/>
<rect x="45.59" y="29.10" width="1.35" height="1.35" fill="#111"/>
<rect x="36.72" y="17.60" width="1.35" height="1.35" fill="#111"/>
<rect x="41.25" y="27.30" width="1.35" height="1.35" fill="#111"/>
<rect x="48.47" y="36.59" width="1.35" height="1.35" fill="#111"/>
<rect x="52.83" y="2.33" width="1.35" height="1.35" fill="#111"/>
<rect x="53.93" y="2.33" width="1.35" height="1.35" fill="#111"/>
<rect x="21.33" y="54.33" width="1.35" height="1.35" fill="#111"/>
<rect x="22.53" y="54.33" width="1.35" height="1.35" fill="#111"/>
<rect x="1.33" y="35.33" width="1.35" height="1.35" fill="#111"/>
<rect x="1.33" y="36.63" width="1.35" height="1.35" fill="#111"/>
<rect x="5.83" y="34.83" width="1.35" height="1.35" fill="#111"/>
<rect x="6.93" y="34.63" width="1.35" height="1.35" fill="#111"/>
</g></g>
<rect x="609.71" y="18.00" width="57.0" height="57.0" fill="none" stroke="#1a1a1a" stroke-width="1.1"/>
<rect x="408.50" y="84.90" width="57.0" height="57.0" fill="none" stroke="#1a1a1a" stroke-width="1.1"/>
<text x="437.00" y="117.60" font-size="12.0" fill="#000" text-anchor="middle" stroke="#000" stroke-width="0.32">R = 0.8</text>
<rect x="475.57" y="84.90" width="57.0" height="57.0" fill="none" stroke="#1a1a1a" stroke-width="1.1"/>
<text x="504.07" y="117.60" font-size="12.0" fill="#000" text-anchor="middle" stroke="#000" stroke-width="0.32">Cell #2</text>
<g transform="translate(542.64,84.90)"><g>
<g clip-path="url(#pclip)">
<polygon points="-3,60 -3,37 8,35.5 17,32.5 31,23.5 42,16 55,2.5 56.5,4 47.5,13.5 42,19.5 33.5,30.5 27,41.5 23,57 22,60" fill="url(#scg)" filter="url(#blur)"/>
<rect x="-3" y="25" width="45" height="35" fill="url(#scr)"/>
<polygon points="-2,36 10,35 14,40 6,46 -2,46" fill="#fff" opacity="0.35" filter="url(#blur)"/>
<rect x="0" y="48.8" width="21" height="2.0" fill="#2464a4" opacity="0.5" filter="url(#blur1)"/>
<rect x="0" y="54.6" width="22" height="2.6" fill="#1a5494" opacity="0.6" filter="url(#blur1)"/>
<rect x="1.8" y="38" width="1.8" height="19" fill="#2464a4" opacity="0.35" filter="url(#blur1)"/>
<rect x="7.2" y="38" width="1.6" height="19" fill="#2464a4" opacity="0.25" filter="url(#blur1)"/>
<rect x="4.4" y="35" width="1.3" height="23" fill="#fff" opacity="0.7"/>
<rect x="0" y="52.2" width="23" height="1.3" fill="#fff" opacity="0.7"/>
</g>
<rect x="36.95" y="18.09" width="1.35" height="1.35" fill="#111"/>
<rect x="51.21" y="5.91" width="1.35" height="1.35" fill="#111"/>
<rect x="1.90" y="35.65" width="1.35" height="1.35" fill="#111"/>
<rect x="38.44" y="16.11" width="1.35" height="1.35" fill="#111"/>
<rect x="28.52" y="22.97" width="1.35" height="1.35" fill="#111"/>
<rect x="33.62" y="18.84" width="1.35" height="1.35" fill="#111"/>
<rect x="19.15" y="29.86" width="1.35" height="1.35" fill="#111"/>
<rect x="11.64" y="32.03" width="1.35" height="1.35" fill="#111"/>
<rect x="35.94" y="17.00" width="1.35" height="1.35" fill="#111"/>
<rect x="47.58" y="7.65" width="1.35" height="1.35" fill="#111"/>
<rect x="53.04" y="3.30" width="1.35" height="1.35" fill="#111"/>
<rect x="51.77" y="4.76" width="1.35" height="1.35" fill="#111"/>
<rect x="14.75" y="31.94" width="1.35" height="1.35" fill="#111"/>
<rect x="52.41" y="3.95" width="1.35" height="1.35" fill="#111"/>
<rect x="22.70" y="26.01" width="1.35" height="1.35" fill="#111"/>
<rect x="4.49" y="34.58" width="1.35" height="1.35" fill="#111"/>
<rect x="-0.08" y="35.10" width="1.35" height="1.35" fill="#111"/>
<rect x="20.71" y="28.33" width="1.35" height="1.35" fill="#111"/>
<rect x="20.62" y="28.49" width="1.35" height="1.35" fill="#111"/>
<rect x="4.69" y="33.77" width="1.35" height="1.35" fill="#111"/>
<rect x="43.16" y="12.30" width="1.35" height="1.35" fill="#111"/>
<rect x="44.21" y="11.64" width="1.35" height="1.35" fill="#111"/>
<rect x="-0.30" y="34.75" width="1.35" height="1.35" fill="#111"/>
<rect x="51.09" y="5.14" width="1.35" height="1.35" fill="#111"/>
<rect x="50.92" y="5.50" width="1.35" height="1.35" fill="#111"/>
<rect x="22.79" y="27.24" width="1.35" height="1.35" fill="#111"/>
<rect x="8.13" y="34.24" width="1.35" height="1.35" fill="#111"/>
<rect x="46.88" y="9.29" width="1.35" height="1.35" fill="#111"/>
<rect x="6.45" y="34.24" width="1.35" height="1.35" fill="#111"/>
<rect x="49.71" y="6.90" width="1.35" height="1.35" fill="#111"/>
<rect x="32.52" y="19.99" width="1.35" height="1.35" fill="#111"/>
<rect x="11.95" y="31.66" width="1.35" height="1.35" fill="#111"/>
<rect x="40.56" y="14.82" width="1.35" height="1.35" fill="#111"/>
<rect x="4.06" y="34.71" width="1.35" height="1.35" fill="#111"/>
<rect x="25.18" y="25.19" width="1.35" height="1.35" fill="#111"/>
<rect x="45.96" y="9.81" width="1.35" height="1.35" fill="#111"/>
<rect x="4.52" y="33.80" width="1.35" height="1.35" fill="#111"/>
<rect x="30.52" y="21.48" width="1.35" height="1.35" fill="#111"/>
<rect x="42.51" y="14.03" width="1.35" height="1.35" fill="#111"/>
<rect x="43.91" y="11.40" width="1.35" height="1.35" fill="#111"/>
<rect x="48.60" y="10.30" width="1.35" height="1.35" fill="#111"/>
<rect x="36.87" y="26.06" width="1.35" height="1.35" fill="#111"/>
<rect x="21.85" y="54.86" width="1.35" height="1.35" fill="#111"/>
<rect x="26.21" y="39.65" width="1.35" height="1.35" fill="#111"/>
<rect x="37.04" y="22.82" width="1.35" height="1.35" fill="#111"/>
<rect x="22.65" y="55.83" width="1.35" height="1.35" fill="#111"/>
<rect x="33.80" y="27.16" width="1.35" height="1.35" fill="#111"/>
<rect x="43.42" y="17.09" width="1.35" height="1.35" fill="#111"/>
<rect x="39.93" y="21.32" width="1.35" height="1.35" fill="#111"/>
<rect x="27.75" y="38.54" width="1.35" height="1.35" fill="#111"/>
<rect x="39.69" y="20.63" width="1.35" height="1.35" fill="#111"/>
<rect x="35.18" y="27.44" width="1.35" height="1.35" fill="#111"/>
<rect x="42.85" y="17.76" width="1.35" height="1.35" fill="#111"/>
<rect x="30.27" y="32.12" width="1.35" height="1.35" fill="#111"/>
<rect x="44.10" y="15.42" width="1.35" height="1.35" fill="#111"/>
<rect x="24.95" y="45.69" width="1.35" height="1.35" fill="#111"/>
<rect x="40.15" y="20.58" width="1.35" height="1.35" fill="#111"/>
<rect x="24.16" y="46.46" width="1.35" height="1.35" fill="#111"/>
<rect x="24.12" y="49.21" width="1.35" height="1.35" fill="#111"/>
<rect x="22.31" y="53.74" width="1.35" height="1.35" fill="#111"/>
<rect x="47.91" y="12.16" width="1.35" height="1.35" fill="#111"/>
<rect x="35.34" y="27.06" width="1.35" height="1.35" fill="#111"/>
<rect x="25.57" y="40.47" width="1.35" height="1.35" fill="#111"/>
<rect x="31.57" y="31.93" width="1.35" height="1.35" fill="#111"/>
<rect x="30.35" y="34.56" width="1.35" height="1.35" fill="#111"/>
<rect x="25.61" y="38.95" width="1.35" height="1.35" fill="#111"/>
<rect x="36.63" y="24.44" width="1.35" height="1.35" fill="#111"/>
<rect x="27.97" y="36.93" width="1.35" height="1.35" fill="#111"/>
<rect x="46.83" y="7.76" width="1.35" height="1.35" fill="#111"/>
<rect x="50.46" y="4.01" width="1.35" height="1.35" fill="#111"/>
<rect x="49.02" y="5.59" width="1.35" height="1.35" fill="#111"/>
<rect x="48.89" y="8.25" width="1.35" height="1.35" fill="#111"/>
<rect x="51.18" y="4.74" width="1.35" height="1.35" fill="#111"/>
<rect x="47.65" y="8.02" width="1.35" height="1.35" fill="#111"/>
<rect x="52.18" y="4.36" width="1.35" height="1.35" fill="#111"/>
<rect x="52.31" y="2.56" width="1.35" height="1.35" fill="#111"/>
<rect x="46.44" y="10.24" width="1.35" height="1.35" fill="#111"/>
<rect x="43.68" y="14.71" width="1.35" height="1.35" fill="#111"/>
<rect x="45.59" y="29.10" width="1.35" height="1.35" fill="#111"/>
<rect x="36.72" y="17.60" width="1.35" height="1.35" fill="#111"/>
<rect x="41.25" y="27.30" width="1.35" height="1.35" fill="#111"/>
<rect x="48.47" y="36.59" width="1.35" height="1.35" fill="#111"/>
<rect x="52.83" y="2.33" width="1.35" height="1.35" fill="#111"/>
<rect x="53.93" y="2.33" width="1.35" height="1.35" fill="#111"/>
<rect x="21.33" y="54.33" width="1.35" height="1.35" fill="#111"/>
<rect x="22.53" y="54.33" width="1.35" height="1.35" fill="#111"/>
<rect x="1.33" y="35.33" width="1.35" height="1.35" fill="#111"/>
<rect x="1.33" y="36.63" width="1.35" height="1.35" fill="#111"/>
<rect x="5.83" y="34.83" width="1.35" height="1.35" fill="#111"/>
<rect x="6.93" y="34.63" width="1.35" height="1.35" fill="#111"/>
</g></g>
<rect x="542.64" y="84.90" width="57.0" height="57.0" fill="none" stroke="#1a1a1a" stroke-width="1.1"/>
<g transform="translate(609.71,84.90)"><g>
<g clip-path="url(#pclip)">
<polygon points="-3,60 -3,37 8,35.5 17,32.5 31,23.5 42,16 55,2.5 56.5,4 47.5,13.5 42,19.5 33.5,30.5 27,41.5 23,57 22,60" fill="url(#scg)" filter="url(#blur)"/>
<rect x="-3" y="25" width="45" height="35" fill="url(#scr)"/>
<polygon points="-2,36 10,35 14,40 6,46 -2,46" fill="#fff" opacity="0.35" filter="url(#blur)"/>
<rect x="0" y="48.8" width="21" height="2.0" fill="#2464a4" opacity="0.5" filter="url(#blur1)"/>
<rect x="0" y="54.6" width="22" height="2.6" fill="#1a5494" opacity="0.6" filter="url(#blur1)"/>
<rect x="1.8" y="38" width="1.8" height="19" fill="#2464a4" opacity="0.35" filter="url(#blur1)"/>
<rect x="7.2" y="38" width="1.6" height="19" fill="#2464a4" opacity="0.25" filter="url(#blur1)"/>
<rect x="4.4" y="35" width="1.3" height="23" fill="#fff" opacity="0.7"/>
<rect x="0" y="52.2" width="23" height="1.3" fill="#fff" opacity="0.7"/>
</g>
<rect x="12.90" y="31.87" width="1.35" height="1.35" fill="#111"/>
<rect x="13.77" y="31.77" width="1.35" height="1.35" fill="#111"/>
<rect x="29.34" y="22.16" width="1.35" height="1.35" fill="#111"/>
<rect x="17.45" y="30.07" width="1.35" height="1.35" fill="#111"/>
<rect x="39.59" y="16.43" width="1.35" height="1.35" fill="#111"/>
<rect x="50.67" y="4.75" width="1.35" height="1.35" fill="#111"/>
<rect x="42.19" y="13.21" width="1.35" height="1.35" fill="#111"/>
<rect x="39.83" y="16.29" width="1.35" height="1.35" fill="#111"/>
<rect x="14.71" y="30.60" width="1.35" height="1.35" fill="#111"/>
<rect x="51.98" y="4.27" width="1.35" height="1.35" fill="#111"/>
<rect x="32.49" y="20.58" width="1.35" height="1.35" fill="#111"/>
<rect x="46.10" y="9.66" width="1.35" height="1.35" fill="#111"/>
<rect x="8.27" y="34.29" width="1.35" height="1.35" fill="#111"/>
<rect x="10.56" y="33.14" width="1.35" height="1.35" fill="#111"/>
<rect x="10.98" y="32.89" width="1.35" height="1.35" fill="#111"/>
<rect x="27.03" y="23.95" width="1.35" height="1.35" fill="#111"/>
<rect x="7.61" y="34.06" width="1.35" height="1.35" fill="#111"/>
<rect x="32.00" y="21.16" width="1.35" height="1.35" fill="#111"/>
<rect x="45.97" y="9.38" width="1.35" height="1.35" fill="#111"/>
<rect x="10.10" y="32.19" width="1.35" height="1.35" fill="#111"/>
<rect x="37.98" y="16.27" width="1.35" height="1.35" fill="#111"/>
<rect x="49.73" y="7.00" width="1.35" height="1.35" fill="#111"/>
<rect x="45.88" y="10.32" width="1.35" height="1.35" fill="#111"/>
<rect x="52.25" y="3.84" width="1.35" height="1.35" fill="#111"/>
<rect x="48.45" y="8.09" width="1.35" height="1.35" fill="#111"/>
<rect x="12.61" y="31.77" width="1.35" height="1.35" fill="#111"/>
<rect x="25.26" y="24.78" width="1.35" height="1.35" fill="#111"/>
<rect x="22.29" y="27.05" width="1.35" height="1.35" fill="#111"/>
<rect x="9.65" y="33.42" width="1.35" height="1.35" fill="#111"/>
<rect x="1.12" y="34.54" width="1.35" height="1.35" fill="#111"/>
<rect x="11.78" y="32.78" width="1.35" height="1.35" fill="#111"/>
<rect x="26.60" y="24.43" width="1.35" height="1.35" fill="#111"/>
<rect x="27.82" y="23.67" width="1.35" height="1.35" fill="#111"/>
<rect x="43.53" y="12.07" width="1.35" height="1.35" fill="#111"/>
<rect x="36.00" y="17.90" width="1.35" height="1.35" fill="#111"/>
<rect x="48.62" y="7.36" width="1.35" height="1.35" fill="#111"/>
<rect x="12.45" y="33.07" width="1.35" height="1.35" fill="#111"/>
<rect x="41.66" y="13.17" width="1.35" height="1.35" fill="#111"/>
<rect x="46.58" y="10.31" width="1.35" height="1.35" fill="#111"/>
<rect x="42.72" y="13.68" width="1.35" height="1.35" fill="#111"/>
<rect x="22.25" y="51.41" width="1.35" height="1.35" fill="#111"/>
<rect x="24.66" y="47.07" width="1.35" height="1.35" fill="#111"/>
<rect x="48.26" y="9.84" width="1.35" height="1.35" fill="#111"/>
<rect x="50.92" y="6.65" width="1.35" height="1.35" fill="#111"/>
<rect x="23.05" y="52.34" width="1.35" height="1.35" fill="#111"/>
<rect x="37.62" y="23.61" width="1.35" height="1.35" fill="#111"/>
<rect x="20.63" y="56.74" width="1.35" height="1.35" fill="#111"/>
<rect x="23.99" y="43.97" width="1.35" height="1.35" fill="#111"/>
<rect x="42.24" y="16.02" width="1.35" height="1.35" fill="#111"/>
<rect x="48.77" y="9.90" width="1.35" height="1.35" fill="#111"/>
<rect x="50.27" y="9.10" width="1.35" height="1.35" fill="#111"/>
<rect x="44.02" y="16.37" width="1.35" height="1.35" fill="#111"/>
<rect x="32.13" y="29.70" width="1.35" height="1.35" fill="#111"/>
<rect x="24.44" y="49.45" width="1.35" height="1.35" fill="#111"/>
<rect x="48.34" y="10.62" width="1.35" height="1.35" fill="#111"/>
<rect x="39.34" y="21.22" width="1.35" height="1.35" fill="#111"/>
<rect x="33.79" y="29.78" width="1.35" height="1.35" fill="#111"/>
<rect x="24.29" y="47.71" width="1.35" height="1.35" fill="#111"/>
<rect x="53.31" y="5.04" width="1.35" height="1.35" fill="#111"/>
<rect x="47.26" y="11.86" width="1.35" height="1.35" fill="#111"/>
<rect x="38.50" y="23.02" width="1.35" height="1.35" fill="#111"/>
<rect x="30.92" y="31.47" width="1.35" height="1.35" fill="#111"/>
<rect x="48.57" y="9.41" width="1.35" height="1.35" fill="#111"/>
<rect x="49.14" y="9.56" width="1.35" height="1.35" fill="#111"/>
<rect x="53.00" y="4.85" width="1.35" height="1.35" fill="#111"/>
<rect x="33.19" y="27.86" width="1.35" height="1.35" fill="#111"/>
<rect x="33.60" y="27.46" width="1.35" height="1.35" fill="#111"/>
<rect x="51.62" y="6.78" width="1.35" height="1.35" fill="#111"/>
<rect x="47.64" y="8.90" width="1.35" height="1.35" fill="#111"/>
<rect x="41.73" y="16.61" width="1.35" height="1.35" fill="#111"/>
<rect x="52.67" y="4.61" width="1.35" height="1.35" fill="#111"/>
<rect x="45.83" y="9.29" width="1.35" height="1.35" fill="#111"/>
<rect x="43.88" y="14.52" width="1.35" height="1.35" fill="#111"/>
<rect x="49.23" y="9.47" width="1.35" height="1.35" fill="#111"/>
<rect x="52.17" y="2.94" width="1.35" height="1.35" fill="#111"/>
<rect x="52.08" y="4.31" width="1.35" height="1.35" fill="#111"/>
<rect x="51.04" y="5.35" width="1.35" height="1.35" fill="#111"/>
<rect x="49.11" y="5.64" width="1.35" height="1.35" fill="#111"/>
<rect x="46.18" y="21.91" width="1.35" height="1.35" fill="#111"/>
<rect x="47.98" y="30.13" width="1.35" height="1.35" fill="#111"/>
<rect x="40.11" y="34.92" width="1.35" height="1.35" fill="#111"/>
<rect x="36.79" y="15.14" width="1.35" height="1.35" fill="#111"/>
<rect x="52.83" y="2.33" width="1.35" height="1.35" fill="#111"/>
<rect x="53.93" y="2.33" width="1.35" height="1.35" fill="#111"/>
<rect x="21.33" y="54.33" width="1.35" height="1.35" fill="#111"/>
<rect x="22.53" y="54.33" width="1.35" height="1.35" fill="#111"/>
<rect x="1.33" y="35.33" width="1.35" height="1.35" fill="#111"/>
<rect x="1.33" y="36.63" width="1.35" height="1.35" fill="#111"/>
<rect x="5.83" y="34.83" width="1.35" height="1.35" fill="#111"/>
<rect x="6.93" y="34.63" width="1.35" height="1.35" fill="#111"/>
</g></g>
<rect x="609.71" y="84.90" width="57.0" height="57.0" fill="none" stroke="#1a1a1a" stroke-width="1.1"/>
<rect x="408.50" y="151.80" width="57.0" height="57.0" fill="none" stroke="#1a1a1a" stroke-width="1.1"/>
<text x="437.00" y="184.50" font-size="12.0" fill="#000" text-anchor="middle" stroke="#000" stroke-width="0.32">R = 0.81</text>
<rect x="475.57" y="151.80" width="57.0" height="57.0" fill="none" stroke="#1a1a1a" stroke-width="1.1"/>
<text x="504.07" y="184.50" font-size="12.0" fill="#000" text-anchor="middle" stroke="#000" stroke-width="0.32">R = 0.79</text>
<rect x="542.64" y="151.80" width="57.0" height="57.0" fill="none" stroke="#1a1a1a" stroke-width="1.1"/>
<text x="571.14" y="184.50" font-size="12.0" fill="#000" text-anchor="middle" stroke="#000" stroke-width="0.32">Cell #3</text>
<g transform="translate(609.71,151.80)"><g>
<g clip-path="url(#pclip)">
<polygon points="-3,60 -3,37 8,35.5 17,32.5 31,23.5 42,16 55,2.5 56.5,4 47.5,13.5 42,19.5 33.5,30.5 27,41.5 23,57 22,60" fill="url(#scg)" filter="url(#blur)"/>
<rect x="-3" y="25" width="45" height="35" fill="url(#scr)"/>
<polygon points="-2,36 10,35 14,40 6,46 -2,46" fill="#fff" opacity="0.35" filter="url(#blur)"/>
<rect x="0" y="48.8" width="21" height="2.0" fill="#2464a4" opacity="0.5" filter="url(#blur1)"/>
<rect x="0" y="54.6" width="22" height="2.6" fill="#1a5494" opacity="0.6" filter="url(#blur1)"/>
<rect x="1.8" y="38" width="1.8" height="19" fill="#2464a4" opacity="0.35" filter="url(#blur1)"/>
<rect x="7.2" y="38" width="1.6" height="19" fill="#2464a4" opacity="0.25" filter="url(#blur1)"/>
<rect x="4.4" y="35" width="1.3" height="23" fill="#fff" opacity="0.7"/>
<rect x="0" y="52.2" width="23" height="1.3" fill="#fff" opacity="0.7"/>
</g>
<rect x="0.07" y="35.03" width="1.35" height="1.35" fill="#111"/>
<rect x="39.26" y="14.92" width="1.35" height="1.35" fill="#111"/>
<rect x="16.26" y="30.49" width="1.35" height="1.35" fill="#111"/>
<rect x="42.55" y="12.87" width="1.35" height="1.35" fill="#111"/>
<rect x="32.20" y="20.47" width="1.35" height="1.35" fill="#111"/>
<rect x="52.69" y="2.31" width="1.35" height="1.35" fill="#111"/>
<rect x="50.69" y="4.86" width="1.35" height="1.35" fill="#111"/>
<rect x="21.27" y="28.38" width="1.35" height="1.35" fill="#111"/>
<rect x="14.24" y="31.65" width="1.35" height="1.35" fill="#111"/>
<rect x="33.40" y="20.75" width="1.35" height="1.35" fill="#111"/>
<rect x="22.44" y="27.31" width="1.35" height="1.35" fill="#111"/>
<rect x="52.31" y="3.75" width="1.35" height="1.35" fill="#111"/>
<rect x="47.98" y="7.78" width="1.35" height="1.35" fill="#111"/>
<rect x="45.03" y="10.66" width="1.35" height="1.35" fill="#111"/>
<rect x="37.22" y="16.27" width="1.35" height="1.35" fill="#111"/>
<rect x="21.54" y="27.29" width="1.35" height="1.35" fill="#111"/>
<rect x="38.26" y="17.54" width="1.35" height="1.35" fill="#111"/>
<rect x="52.94" y="4.34" width="1.35" height="1.35" fill="#111"/>
<rect x="19.74" y="28.69" width="1.35" height="1.35" fill="#111"/>
<rect x="32.99" y="19.61" width="1.35" height="1.35" fill="#111"/>
<rect x="13.96" y="32.05" width="1.35" height="1.35" fill="#111"/>
<rect x="39.78" y="14.99" width="1.35" height="1.35" fill="#111"/>
<rect x="49.74" y="7.33" width="1.35" height="1.35" fill="#111"/>
<rect x="13.66" y="32.28" width="1.35" height="1.35" fill="#111"/>
<rect x="27.89" y="23.82" width="1.35" height="1.35" fill="#111"/>
<rect x="8.03" y="34.31" width="1.35" height="1.35" fill="#111"/>
<rect x="8.23" y="33.24" width="1.35" height="1.35" fill="#111"/>
<rect x="41.59" y="14.51" width="1.35" height="1.35" fill="#111"/>
<rect x="30.69" y="21.56" width="1.35" height="1.35" fill="#111"/>
<rect x="23.84" y="26.41" width="1.35" height="1.35" fill="#111"/>
<rect x="2.20" y="34.23" width="1.35" height="1.35" fill="#111"/>
<rect x="41.92" y="14.85" width="1.35" height="1.35" fill="#111"/>
<rect x="43.21" y="12.77" width="1.35" height="1.35" fill="#111"/>
<rect x="52.52" y="2.75" width="1.35" height="1.35" fill="#111"/>
<rect x="23.59" y="25.58" width="1.35" height="1.35" fill="#111"/>
<rect x="2.76" y="35.29" width="1.35" height="1.35" fill="#111"/>
<rect x="3.72" y="34.16" width="1.35" height="1.35" fill="#111"/>
<rect x="13.87" y="31.56" width="1.35" height="1.35" fill="#111"/>
<rect x="12.82" y="32.39" width="1.35" height="1.35" fill="#111"/>
<rect x="32.12" y="20.85" width="1.35" height="1.35" fill="#111"/>
<rect x="33.62" y="29.00" width="1.35" height="1.35" fill="#111"/>
<rect x="26.60" y="38.73" width="1.35" height="1.35" fill="#111"/>
<rect x="49.50" y="9.76" width="1.35" height="1.35" fill="#111"/>
<rect x="22.89" y="52.99" width="1.35" height="1.35" fill="#111"/>
<rect x="47.94" y="10.85" width="1.35" height="1.35" fill="#111"/>
<rect x="36.23" y="23.88" width="1.35" height="1.35" fill="#111"/>
<rect x="41.26" y="18.49" width="1.35" height="1.35" fill="#111"/>
<rect x="32.04" y="30.41" width="1.35" height="1.35" fill="#111"/>
<rect x="26.72" y="39.53" width="1.35" height="1.35" fill="#111"/>
<rect x="30.89" y="33.48" width="1.35" height="1.35" fill="#111"/>
<rect x="46.40" y="12.97" width="1.35" height="1.35" fill="#111"/>
<rect x="38.48" y="22.70" width="1.35" height="1.35" fill="#111"/>
<rect x="45.36" y="12.77" width="1.35" height="1.35" fill="#111"/>
<rect x="27.05" y="38.73" width="1.35" height="1.35" fill="#111"/>
<rect x="50.71" y="6.76" width="1.35" height="1.35" fill="#111"/>
<rect x="34.87" y="27.52" width="1.35" height="1.35" fill="#111"/>
<rect x="42.01" y="16.00" width="1.35" height="1.35" fill="#111"/>
<rect x="34.36" y="26.93" width="1.35" height="1.35" fill="#111"/>
<rect x="52.61" y="3.41" width="1.35" height="1.35" fill="#111"/>
<rect x="25.26" y="42.30" width="1.35" height="1.35" fill="#111"/>
<rect x="31.09" y="32.42" width="1.35" height="1.35" fill="#111"/>
<rect x="44.70" y="15.21" width="1.35" height="1.35" fill="#111"/>
<rect x="32.22" y="29.28" width="1.35" height="1.35" fill="#111"/>
<rect x="30.84" y="31.50" width="1.35" height="1.35" fill="#111"/>
<rect x="33.41" y="30.29" width="1.35" height="1.35" fill="#111"/>
<rect x="34.08" y="28.52" width="1.35" height="1.35" fill="#111"/>
<rect x="38.71" y="22.29" width="1.35" height="1.35" fill="#111"/>
<rect x="44.79" y="14.63" width="1.35" height="1.35" fill="#111"/>
<rect x="50.54" y="4.94" width="1.35" height="1.35" fill="#111"/>
<rect x="43.31" y="14.39" width="1.35" height="1.35" fill="#111"/>
<rect x="43.35" y="13.94" width="1.35" height="1.35" fill="#111"/>
<rect x="49.84" y="7.86" width="1.35" height="1.35" fill="#111"/>
<rect x="49.58" y="4.49" width="1.35" height="1.35" fill="#111"/>
<rect x="51.61" y="3.99" width="1.35" height="1.35" fill="#111"/>
<rect x="46.89" y="7.28" width="1.35" height="1.35" fill="#111"/>
<rect x="44.16" y="13.06" width="1.35" height="1.35" fill="#111"/>
<rect x="48.15" y="10.38" width="1.35" height="1.35" fill="#111"/>
<rect x="44.77" y="12.92" width="1.35" height="1.35" fill="#111"/>
<rect x="32.71" y="16.39" width="1.35" height="1.35" fill="#111"/>
<rect x="46.51" y="15.64" width="1.35" height="1.35" fill="#111"/>
<rect x="40.72" y="35.25" width="1.35" height="1.35" fill="#111"/>
<rect x="35.78" y="23.28" width="1.35" height="1.35" fill="#111"/>
<rect x="52.83" y="2.33" width="1.35" height="1.35" fill="#111"/>
<rect x="53.93" y="2.33" width="1.35" height="1.35" fill="#111"/>
<rect x="21.33" y="54.33" width="1.35" height="1.35" fill="#111"/>
<rect x="22.53" y="54.33" width="1.35" height="1.35" fill="#111"/>
<rect x="1.33" y="35.33" width="1.35" height="1.35" fill="#111"/>
<rect x="1.33" y="36.63" width="1.35" height="1.35" fill="#111"/>
<rect x="5.83" y="34.83" width="1.35" height="1.35" fill="#111"/>
<rect x="6.93" y="34.63" width="1.35" height="1.35" fill="#111"/>
</g></g>
<rect x="609.71" y="151.80" width="57.0" height="57.0" fill="none" stroke="#1a1a1a" stroke-width="1.1"/>
<rect x="408.50" y="218.70" width="57.0" height="57.0" fill="none" stroke="#1a1a1a" stroke-width="1.1"/>
<text x="437.00" y="251.40" font-size="12.0" fill="#000" text-anchor="middle" stroke="#000" stroke-width="0.32">R = 0.8</text>
<rect x="475.57" y="218.70" width="57.0" height="57.0" fill="none" stroke="#1a1a1a" stroke-width="1.1"/>
<text x="504.07" y="251.40" font-size="12.0" fill="#000" text-anchor="middle" stroke="#000" stroke-width="0.32">R = 0.79</text>
<rect x="542.64" y="218.70" width="57.0" height="57.0" fill="none" stroke="#1a1a1a" stroke-width="1.1"/>
<text x="571.14" y="251.40" font-size="12.0" fill="#000" text-anchor="middle" stroke="#000" stroke-width="0.32">R = 0.8</text>
<rect x="609.71" y="218.70" width="57.0" height="57.0" fill="none" stroke="#1a1a1a" stroke-width="1.1"/>
<text x="638.21" y="251.40" font-size="12.0" fill="#000" text-anchor="middle" stroke="#000" stroke-width="0.32">Cell #4</text>
<line x1="485.00" y1="12.80" x2="485.00" y2="18.00" stroke="#1a1a1a" stroke-width="1"/>
<text x="485.00" y="6.00" font-size="8.3" fill="#000" text-anchor="middle" stroke="#000" stroke-width="0.32">6</text>
<line x1="495.95" y1="12.80" x2="495.95" y2="18.00" stroke="#1a1a1a" stroke-width="1"/>
<line x1="506.90" y1="12.80" x2="506.90" y2="18.00" stroke="#1a1a1a" stroke-width="1"/>
<text x="506.90" y="6.00" font-size="8.3" fill="#000" text-anchor="middle" stroke="#000" stroke-width="0.32">10</text>
<line x1="517.85" y1="12.80" x2="517.85" y2="18.00" stroke="#1a1a1a" stroke-width="1"/>
<line x1="528.80" y1="12.80" x2="528.80" y2="18.00" stroke="#1a1a1a" stroke-width="1"/>
<text x="528.80" y="6.00" font-size="8.3" fill="#000" text-anchor="middle" stroke="#000" stroke-width="0.32">14</text>
<line x1="610.20" y1="12.80" x2="610.20" y2="18.00" stroke="#1a1a1a" stroke-width="1"/>
<text x="610.20" y="6.00" font-size="8.3" fill="#000" text-anchor="middle" stroke="#000" stroke-width="0.32">4</text>
<line x1="621.14" y1="12.80" x2="621.14" y2="18.00" stroke="#1a1a1a" stroke-width="1"/>
<line x1="632.08" y1="12.80" x2="632.08" y2="18.00" stroke="#1a1a1a" stroke-width="1"/>
<text x="632.08" y="6.00" font-size="8.3" fill="#000" text-anchor="middle" stroke="#000" stroke-width="0.32">8</text>
<line x1="643.02" y1="12.80" x2="643.02" y2="18.00" stroke="#1a1a1a" stroke-width="1"/>
<line x1="653.96" y1="12.80" x2="653.96" y2="18.00" stroke="#1a1a1a" stroke-width="1"/>
<text x="653.96" y="6.00" font-size="8.3" fill="#000" text-anchor="middle" stroke="#000" stroke-width="0.32">12</text>
<line x1="664.90" y1="12.80" x2="664.90" y2="18.00" stroke="#1a1a1a" stroke-width="1"/>
<line x1="666.71" y1="74.50" x2="672.31" y2="74.50" stroke="#1a1a1a" stroke-width="1"/>
<text x="683.91" y="74.50" font-size="8.3" fill="#000" text-anchor="middle" stroke="#000" stroke-width="0.32" transform="rotate(-90 683.9100000000001 74.5)">4</text>
<line x1="666.71" y1="63.80" x2="672.31" y2="63.80" stroke="#1a1a1a" stroke-width="1"/>
<line x1="666.71" y1="53.10" x2="672.31" y2="53.10" stroke="#1a1a1a" stroke-width="1"/>
<text x="683.91" y="53.10" font-size="8.3" fill="#000" text-anchor="middle" stroke="#000" stroke-width="0.32" transform="rotate(-90 683.9100000000001 53.1)">8</text>
<line x1="666.71" y1="42.40" x2="672.31" y2="42.40" stroke="#1a1a1a" stroke-width="1"/>
<line x1="666.71" y1="31.70" x2="672.31" y2="31.70" stroke="#1a1a1a" stroke-width="1"/>
<text x="683.91" y="31.70" font-size="8.3" fill="#000" text-anchor="middle" stroke="#000" stroke-width="0.32" transform="rotate(-90 683.9100000000001 31.700000000000003)">12</text>
<line x1="666.71" y1="21.00" x2="672.31" y2="21.00" stroke="#1a1a1a" stroke-width="1"/>
<line x1="666.71" y1="207.00" x2="672.31" y2="207.00" stroke="#1a1a1a" stroke-width="1"/>
<text x="683.91" y="207.00" font-size="8.3" fill="#000" text-anchor="middle" stroke="#000" stroke-width="0.32" transform="rotate(-90 683.9100000000001 207.0)">4</text>
<line x1="666.71" y1="196.46" x2="672.31" y2="196.46" stroke="#1a1a1a" stroke-width="1"/>
<line x1="666.71" y1="185.92" x2="672.31" y2="185.92" stroke="#1a1a1a" stroke-width="1"/>
<text x="683.91" y="185.92" font-size="8.3" fill="#000" text-anchor="middle" stroke="#000" stroke-width="0.32" transform="rotate(-90 683.9100000000001 185.92000000000002)">8</text>
<line x1="666.71" y1="175.38" x2="672.31" y2="175.38" stroke="#1a1a1a" stroke-width="1"/>
<line x1="666.71" y1="164.84" x2="672.31" y2="164.84" stroke="#1a1a1a" stroke-width="1"/>
<text x="683.91" y="164.84" font-size="8.3" fill="#000" text-anchor="middle" stroke="#000" stroke-width="0.32" transform="rotate(-90 683.9100000000001 164.84)">12</text>
<line x1="666.71" y1="154.30" x2="672.31" y2="154.30" stroke="#1a1a1a" stroke-width="1"/>
<line x1="403.10" y1="132.20" x2="408.50" y2="132.20" stroke="#1a1a1a" stroke-width="1"/>
<text x="396.30" y="132.20" font-size="8.3" fill="#000" text-anchor="middle" stroke="#000" stroke-width="0.32" transform="rotate(-90 396.3 132.2)">6</text>
<line x1="403.10" y1="121.25" x2="408.50" y2="121.25" stroke="#1a1a1a" stroke-width="1"/>
<line x1="403.10" y1="110.30" x2="408.50" y2="110.30" stroke="#1a1a1a" stroke-width="1"/>
<text x="396.30" y="110.30" font-size="8.3" fill="#000" text-anchor="middle" stroke="#000" stroke-width="0.32" transform="rotate(-90 396.3 110.3)">10</text>
<line x1="403.10" y1="99.35" x2="408.50" y2="99.35" stroke="#1a1a1a" stroke-width="1"/>
<line x1="403.10" y1="88.40" x2="408.50" y2="88.40" stroke="#1a1a1a" stroke-width="1"/>
<text x="396.30" y="88.40" font-size="8.3" fill="#000" text-anchor="middle" stroke="#000" stroke-width="0.32" transform="rotate(-90 396.3 88.4)">14</text>
<line x1="403.10" y1="274.80" x2="408.50" y2="274.80" stroke="#1a1a1a" stroke-width="1"/>
<text x="396.30" y="274.80" font-size="8.3" fill="#000" text-anchor="middle" stroke="#000" stroke-width="0.32" transform="rotate(-90 396.3 274.8)">4</text>
<line x1="403.10" y1="264.04" x2="408.50" y2="264.04" stroke="#1a1a1a" stroke-width="1"/>
<line x1="403.10" y1="253.28" x2="408.50" y2="253.28" stroke="#1a1a1a" stroke-width="1"/>
<text x="396.30" y="253.28" font-size="8.3" fill="#000" text-anchor="middle" stroke="#000" stroke-width="0.32" transform="rotate(-90 396.3 253.28)">8</text>
<line x1="403.10" y1="242.52" x2="408.50" y2="242.52" stroke="#1a1a1a" stroke-width="1"/>
<line x1="403.10" y1="231.76" x2="408.50" y2="231.76" stroke="#1a1a1a" stroke-width="1"/>
<text x="396.30" y="231.76" font-size="8.3" fill="#000" text-anchor="middle" stroke="#000" stroke-width="0.32" transform="rotate(-90 396.3 231.76)">12</text>
<line x1="403.10" y1="221.00" x2="408.50" y2="221.00" stroke="#1a1a1a" stroke-width="1"/>
<line x1="409.30" y1="275.70" x2="409.30" y2="280.90" stroke="#1a1a1a" stroke-width="1"/>
<text x="409.30" y="294.40" font-size="8.3" fill="#000" text-anchor="middle" stroke="#000" stroke-width="0.32">4</text>
<line x1="420.00" y1="275.70" x2="420.00" y2="280.90" stroke="#1a1a1a" stroke-width="1"/>
<line x1="430.70" y1="275.70" x2="430.70" y2="280.90" stroke="#1a1a1a" stroke-width="1"/>
<text x="430.70" y="294.40" font-size="8.3" fill="#000" text-anchor="middle" stroke="#000" stroke-width="0.32">8</text>
<line x1="441.40" y1="275.70" x2="441.40" y2="280.90" stroke="#1a1a1a" stroke-width="1"/>
<line x1="452.10" y1="275.70" x2="452.10" y2="280.90" stroke="#1a1a1a" stroke-width="1"/>
<text x="452.10" y="294.40" font-size="8.3" fill="#000" text-anchor="middle" stroke="#000" stroke-width="0.32">12</text>
<line x1="462.80" y1="275.70" x2="462.80" y2="280.90" stroke="#1a1a1a" stroke-width="1"/>
<line x1="543.80" y1="275.70" x2="543.80" y2="280.90" stroke="#1a1a1a" stroke-width="1"/>
<text x="543.80" y="294.40" font-size="8.3" fill="#000" text-anchor="middle" stroke="#000" stroke-width="0.32">4</text>
<line x1="554.46" y1="275.70" x2="554.46" y2="280.90" stroke="#1a1a1a" stroke-width="1"/>
<line x1="565.12" y1="275.70" x2="565.12" y2="280.90" stroke="#1a1a1a" stroke-width="1"/>
<text x="565.12" y="294.40" font-size="8.3" fill="#000" text-anchor="middle" stroke="#000" stroke-width="0.32">8</text>
<line x1="575.78" y1="275.70" x2="575.78" y2="280.90" stroke="#1a1a1a" stroke-width="1"/>
<line x1="586.44" y1="275.70" x2="586.44" y2="280.90" stroke="#1a1a1a" stroke-width="1"/>
<text x="586.44" y="294.40" font-size="8.3" fill="#000" text-anchor="middle" stroke="#000" stroke-width="0.32">12</text>
<line x1="597.10" y1="275.70" x2="597.10" y2="280.90" stroke="#1a1a1a" stroke-width="1"/>
<text x="539.75" y="301.50" font-size="12.95" fill="#000" text-anchor="middle" stroke="#000" stroke-width="0.32">Gene expression level</text>
<text x="384.90" y="136.00" font-size="12.95" fill="#000" text-anchor="middle" stroke="#000" stroke-width="0.32" transform="rotate(-90 384.9 136)">Gene expression level</text>
<text x="358.00" y="326.40" font-size="19.2" fill="#000" text-anchor="start" font-weight="bold">C</text>
<rect x="408.50" y="339.70" width="57.0" height="57.0" fill="none" stroke="#1a1a1a" stroke-width="1.1"/>
<text x="437.00" y="372.40" font-size="12.0" fill="#000" text-anchor="middle" stroke="#000" stroke-width="0.32">Cell #1</text>
<g transform="translate(475.57,339.70)"><g>
<g clip-path="url(#pclip)">
<polygon points="-3,60 -3,37 8,35.5 17,32.5 31,23.5 42,16 55,2.5 56.5,4 47.5,13.5 42,19.5 33.5,30.5 27,41.5 23,57 22,60" fill="url(#scg)" filter="url(#blur)"/>
<rect x="-3" y="25" width="45" height="35" fill="url(#scr)"/>
<polygon points="-2,36 10,35 14,40 6,46 -2,46" fill="#fff" opacity="0.35" filter="url(#blur)"/>
<rect x="0" y="48.8" width="21" height="2.0" fill="#2464a4" opacity="0.5" filter="url(#blur1)"/>
<rect x="0" y="54.6" width="22" height="2.6" fill="#1a5494" opacity="0.6" filter="url(#blur1)"/>
<rect x="1.8" y="38" width="1.8" height="19" fill="#2464a4" opacity="0.35" filter="url(#blur1)"/>
<rect x="7.2" y="38" width="1.6" height="19" fill="#2464a4" opacity="0.25" filter="url(#blur1)"/>
<rect x="4.4" y="35" width="1.3" height="23" fill="#fff" opacity="0.7"/>
<rect x="0" y="52.2" width="23" height="1.3" fill="#fff" opacity="0.7"/>
</g>
<rect x="12.90" y="31.87" width="1.35" height="1.35" fill="#111"/>
<rect x="13.77" y="31.77" width="1.35" height="1.35" fill="#111"/>
<rect x="29.34" y="22.16" width="1.35" height="1.35" fill="#111"/>
<rect x="17.45" y="30.07" width="1.35" height="1.35" fill="#111"/>
<rect x="39.59" y="16.43" width="1.35" height="1.35" fill="#111"/>
<rect x="50.67" y="4.75" width="1.35" height="1.35" fill="#111"/>
<rect x="42.19" y="13.21" width="1.35" height="1.35" fill="#111"/>
<rect x="39.83" y="16.29" width="1.35" height="1.35" fill="#111"/>
<rect x="14.71" y="30.60" width="1.35" height="1.35" fill="#111"/>
<rect x="51.98" y="4.27" width="1.35" height="1.35" fill="#111"/>
<rect x="32.49" y="20.58" width="1.35" height="1.35" fill="#111"/>
<rect x="46.10" y="9.66" width="1.35" height="1.35" fill="#111"/>
<rect x="8.27" y="34.29" width="1.35" height="1.35" fill="#111"/>
<rect x="10.56" y="33.14" width="1.35" height="1.35" fill="#111"/>
<rect x="10.98" y="32.89" width="1.35" height="1.35" fill="#111"/>
<rect x="27.03" y="23.95" width="1.35" height="1.35" fill="#111"/>
<rect x="7.61" y="34.06" width="1.35" height="1.35" fill="#111"/>
<rect x="32.00" y="21.16" width="1.35" height="1.35" fill="#111"/>
<rect x="45.97" y="9.38" width="1.35" height="1.35" fill="#111"/>
<rect x="10.10" y="32.19" width="1.35" height="1.35" fill="#111"/>
<rect x="37.98" y="16.27" width="1.35" height="1.35" fill="#111"/>
<rect x="49.73" y="7.00" width="1.35" height="1.35" fill="#111"/>
<rect x="45.88" y="10.32" width="1.35" height="1.35" fill="#111"/>
<rect x="52.25" y="3.84" width="1.35" height="1.35" fill="#111"/>
<rect x="48.45" y="8.09" width="1.35" height="1.35" fill="#111"/>
<rect x="12.61" y="31.77" width="1.35" height="1.35" fill="#111"/>
<rect x="25.26" y="24.78" width="1.35" height="1.35" fill="#111"/>
<rect x="22.29" y="27.05" width="1.35" height="1.35" fill="#111"/>
<rect x="9.65" y="33.42" width="1.35" height="1.35" fill="#111"/>
<rect x="1.12" y="34.54" width="1.35" height="1.35" fill="#111"/>
<rect x="11.78" y="32.78" width="1.35" height="1.35" fill="#111"/>
<rect x="26.60" y="24.43" width="1.35" height="1.35" fill="#111"/>
<rect x="27.82" y="23.67" width="1.35" height="1.35" fill="#111"/>
<rect x="43.53" y="12.07" width="1.35" height="1.35" fill="#111"/>
<rect x="36.00" y="17.90" width="1.35" height="1.35" fill="#111"/>
<rect x="48.62" y="7.36" width="1.35" height="1.35" fill="#111"/>
<rect x="12.45" y="33.07" width="1.35" height="1.35" fill="#111"/>
<rect x="41.66" y="13.17" width="1.35" height="1.35" fill="#111"/>
<rect x="46.58" y="10.31" width="1.35" height="1.35" fill="#111"/>
<rect x="42.72" y="13.68" width="1.35" height="1.35" fill="#111"/>
<rect x="22.25" y="51.41" width="1.35" height="1.35" fill="#111"/>
<rect x="24.66" y="47.07" width="1.35" height="1.35" fill="#111"/>
<rect x="48.26" y="9.84" width="1.35" height="1.35" fill="#111"/>
<rect x="50.92" y="6.65" width="1.35" height="1.35" fill="#111"/>
<rect x="23.05" y="52.34" width="1.35" height="1.35" fill="#111"/>
<rect x="37.62" y="23.61" width="1.35" height="1.35" fill="#111"/>
<rect x="20.63" y="56.74" width="1.35" height="1.35" fill="#111"/>
<rect x="23.99" y="43.97" width="1.35" height="1.35" fill="#111"/>
<rect x="42.24" y="16.02" width="1.35" height="1.35" fill="#111"/>
<rect x="48.77" y="9.90" width="1.35" height="1.35" fill="#111"/>
<rect x="50.27" y="9.10" width="1.35" height="1.35" fill="#111"/>
<rect x="44.02" y="16.37" width="1.35" height="1.35" fill="#111"/>
<rect x="32.13" y="29.70" width="1.35" height="1.35" fill="#111"/>
<rect x="24.44" y="49.45" width="1.35" height="1.35" fill="#111"/>
<rect x="48.34" y="10.62" width="1.35" height="1.35" fill="#111"/>
<rect x="39.34" y="21.22" width="1.35" height="1.35" fill="#111"/>
<rect x="33.79" y="29.78" width="1.35" height="1.35" fill="#111"/>
<rect x="24.29" y="47.71" width="1.35" height="1.35" fill="#111"/>
<rect x="53.31" y="5.04" width="1.35" height="1.35" fill="#111"/>
<rect x="47.26" y="11.86" width="1.35" height="1.35" fill="#111"/>
<rect x="38.50" y="23.02" width="1.35" height="1.35" fill="#111"/>
<rect x="30.92" y="31.47" width="1.35" height="1.35" fill="#111"/>
<rect x="48.57" y="9.41" width="1.35" height="1.35" fill="#111"/>
<rect x="49.14" y="9.56" width="1.35" height="1.35" fill="#111"/>
<rect x="53.00" y="4.85" width="1.35" height="1.35" fill="#111"/>
<rect x="33.19" y="27.86" width="1.35" height="1.35" fill="#111"/>
<rect x="33.60" y="27.46" width="1.35" height="1.35" fill="#111"/>
<rect x="51.62" y="6.78" width="1.35" height="1.35" fill="#111"/>
<rect x="47.64" y="8.90" width="1.35" height="1.35" fill="#111"/>
<rect x="41.73" y="16.61" width="1.35" height="1.35" fill="#111"/>
<rect x="52.67" y="4.61" width="1.35" height="1.35" fill="#111"/>
<rect x="45.83" y="9.29" width="1.35" height="1.35" fill="#111"/>
<rect x="43.88" y="14.52" width="1.35" height="1.35" fill="#111"/>
<rect x="49.23" y="9.47" width="1.35" height="1.35" fill="#111"/>
<rect x="52.17" y="2.94" width="1.35" height="1.35" fill="#111"/>
<rect x="52.08" y="4.31" width="1.35" height="1.35" fill="#111"/>
<rect x="51.04" y="5.35" width="1.35" height="1.35" fill="#111"/>
<rect x="49.11" y="5.64" width="1.35" height="1.35" fill="#111"/>
<rect x="46.18" y="21.91" width="1.35" height="1.35" fill="#111"/>
<rect x="47.98" y="30.13" width="1.35" height="1.35" fill="#111"/>
<rect x="40.11" y="34.92" width="1.35" height="1.35" fill="#111"/>
<rect x="36.79" y="15.14" width="1.35" height="1.35" fill="#111"/>
<rect x="52.83" y="2.33" width="1.35" height="1.35" fill="#111"/>
<rect x="53.93" y="2.33" width="1.35" height="1.35" fill="#111"/>
<rect x="21.33" y="54.33" width="1.35" height="1.35" fill="#111"/>
<rect x="22.53" y="54.33" width="1.35" height="1.35" fill="#111"/>
<rect x="1.33" y="35.33" width="1.35" height="1.35" fill="#111"/>
<rect x="1.33" y="36.63" width="1.35" height="1.35" fill="#111"/>
<rect x="5.83" y="34.83" width="1.35" height="1.35" fill="#111"/>
<rect x="6.93" y="34.63" width="1.35" height="1.35" fill="#111"/>
</g></g>
<rect x="475.57" y="339.70" width="57.0" height="57.0" fill="none" stroke="#1a1a1a" stroke-width="1.1"/>
<g transform="translate(542.64,339.70)"><g>
<g clip-path="url(#pclip)">
<polygon points="-3,60 -3,37 8,35.5 17,32.5 31,23.5 42,16 55,2.5 56.5,4 47.5,13.5 42,19.5 33.5,30.5 27,41.5 23,57 22,60" fill="url(#scg)" filter="url(#blur)"/>
<rect x="-3" y="25" width="45" height="35" fill="url(#scr)"/>
<polygon points="-2,36 10,35 14,40 6,46 -2,46" fill="#fff" opacity="0.35" filter="url(#blur)"/>
<rect x="0" y="48.8" width="21" height="2.0" fill="#2464a4" opacity="0.5" filter="url(#blur1)"/>
<rect x="0" y="54.6" width="22" height="2.6" fill="#1a5494" opacity="0.6" filter="url(#blur1)"/>
<rect x="1.8" y="38" width="1.8" height="19" fill="#2464a4" opacity="0.35" filter="url(#blur1)"/>
<rect x="7.2" y="38" width="1.6" height="19" fill="#2464a4" opacity="0.25" filter="url(#blur1)"/>
<rect x="4.4" y="35" width="1.3" height="23" fill="#fff" opacity="0.7"/>
<rect x="0" y="52.2" width="23" height="1.3" fill="#fff" opacity="0.7"/>
</g>
<rect x="0.07" y="35.03" width="1.35" height="1.35" fill="#111"/>
<rect x="39.26" y="14.92" width="1.35" height="1.35" fill="#111"/>
<rect x="16.26" y="30.49" width="1.35" height="1.35" fill="#111"/>
<rect x="42.55" y="12.87" width="1.35" height="1.35" fill="#111"/>
<rect x="32.20" y="20.47" width="1.35" height="1.35" fill="#111"/>
<rect x="52.69" y="2.31" width="1.35" height="1.35" fill="#111"/>
<rect x="50.69" y="4.86" width="1.35" height="1.35" fill="#111"/>
<rect x="21.27" y="28.38" width="1.35" height="1.35" fill="#111"/>
<rect x="14.24" y="31.65" width="1.35" height="1.35" fill="#111"/>
<rect x="33.40" y="20.75" width="1.35" height="1.35" fill="#111"/>
<rect x="22.44" y="27.31" width="1.35" height="1.35" fill="#111"/>
<rect x="52.31" y="3.75" width="1.35" height="1.35" fill="#111"/>
<rect x="47.98" y="7.78" width="1.35" height="1.35" fill="#111"/>
<rect x="45.03" y="10.66" width="1.35" height="1.35" fill="#111"/>
<rect x="37.22" y="16.27" width="1.35" height="1.35" fill="#111"/>
<rect x="21.54" y="27.29" width="1.35" height="1.35" fill="#111"/>
<rect x="38.26" y="17.54" width="1.35" height="1.35" fill="#111"/>
<rect x="52.94" y="4.34" width="1.35" height="1.35" fill="#111"/>
<rect x="19.74" y="28.69" width="1.35" height="1.35" fill="#111"/>
<rect x="32.99" y="19.61" width="1.35" height="1.35" fill="#111"/>
<rect x="13.96" y="32.05" width="1.35" height="1.35" fill="#111"/>
<rect x="39.78" y="14.99" width="1.35" height="1.35" fill="#111"/>
<rect x="49.74" y="7.33" width="1.35" height="1.35" fill="#111"/>
<rect x="13.66" y="32.28" width="1.35" height="1.35" fill="#111"/>
<rect x="27.89" y="23.82" width="1.35" height="1.35" fill="#111"/>
<rect x="8.03" y="34.31" width="1.35" height="1.35" fill="#111"/>
<rect x="8.23" y="33.24" width="1.35" height="1.35" fill="#111"/>
<rect x="41.59" y="14.51" width="1.35" height="1.35" fill="#111"/>
<rect x="30.69" y="21.56" width="1.35" height="1.35" fill="#111"/>
<rect x="23.84" y="26.41" width="1.35" height="1.35" fill="#111"/>
<rect x="2.20" y="34.23" width="1.35" height="1.35" fill="#111"/>
<rect x="41.92" y="14.85" width="1.35" height="1.35" fill="#111"/>
<rect x="43.21" y="12.77" width="1.35" height="1.35" fill="#111"/>
<rect x="52.52" y="2.75" width="1.35" height="1.35" fill="#111"/>
<rect x="23.59" y="25.58" width="1.35" height="1.35" fill="#111"/>
<rect x="2.76" y="35.29" width="1.35" height="1.35" fill="#111"/>
<rect x="3.72" y="34.16" width="1.35" height="1.35" fill="#111"/>
<rect x="13.87" y="31.56" width="1.35" height="1.35" fill="#111"/>
<rect x="12.82" y="32.39" width="1.35" height="1.35" fill="#111"/>
<rect x="32.12" y="20.85" width="1.35" height="1.35" fill="#111"/>
<rect x="33.62" y="29.00" width="1.35" height="1.35" fill="#111"/>
<rect x="26.60" y="38.73" width="1.35" height="1.35" fill="#111"/>
<rect x="49.50" y="9.76" width="1.35" height="1.35" fill="#111"/>
<rect x="22.89" y="52.99" width="1.35" height="1.35" fill="#111"/>
<rect x="47.94" y="10.85" width="1.35" height="1.35" fill="#111"/>
<rect x="36.23" y="23.88" width="1.35" height="1.35" fill="#111"/>
<rect x="41.26" y="18.49" width="1.35" height="1.35" fill="#111"/>
<rect x="32.04" y="30.41" width="1.35" height="1.35" fill="#111"/>
<rect x="26.72" y="39.53" width="1.35" height="1.35" fill="#111"/>
<rect x="30.89" y="33.48" width="1.35" height="1.35" fill="#111"/>
<rect x="46.40" y="12.97" width="1.35" height="1.35" fill="#111"/>
<rect x="38.48" y="22.70" width="1.35" height="1.35" fill="#111"/>
<rect x="45.36" y="12.77" width="1.35" height="1.35" fill="#111"/>
<rect x="27.05" y="38.73" width="1.35" height="1.35" fill="#111"/>
<rect x="50.71" y="6.76" width="1.35" height="1.35" fill="#111"/>
<rect x="34.87" y="27.52" width="1.35" height="1.35" fill="#111"/>
<rect x="42.01" y="16.00" width="1.35" height="1.35" fill="#111"/>
<rect x="34.36" y="26.93" width="1.35" height="1.35" fill="#111"/>
<rect x="52.61" y="3.41" width="1.35" height="1.35" fill="#111"/>
<rect x="25.26" y="42.30" width="1.35" height="1.35" fill="#111"/>
<rect x="31.09" y="32.42" width="1.35" height="1.35" fill="#111"/>
<rect x="44.70" y="15.21" width="1.35" height="1.35" fill="#111"/>
<rect x="32.22" y="29.28" width="1.35" height="1.35" fill="#111"/>
<rect x="30.84" y="31.50" width="1.35" height="1.35" fill="#111"/>
<rect x="33.41" y="30.29" width="1.35" height="1.35" fill="#111"/>
<rect x="34.08" y="28.52" width="1.35" height="1.35" fill="#111"/>
<rect x="38.71" y="22.29" width="1.35" height="1.35" fill="#111"/>
<rect x="44.79" y="14.63" width="1.35" height="1.35" fill="#111"/>
<rect x="50.54" y="4.94" width="1.35" height="1.35" fill="#111"/>
<rect x="43.31" y="14.39" width="1.35" height="1.35" fill="#111"/>
<rect x="43.35" y="13.94" width="1.35" height="1.35" fill="#111"/>
<rect x="49.84" y="7.86" width="1.35" height="1.35" fill="#111"/>
<rect x="49.58" y="4.49" width="1.35" height="1.35" fill="#111"/>
<rect x="51.61" y="3.99" width="1.35" height="1.35" fill="#111"/>
<rect x="46.89" y="7.28" width="1.35" height="1.35" fill="#111"/>
<rect x="44.16" y="13.06" width="1.35" height="1.35" fill="#111"/>
<rect x="48.15" y="10.38" width="1.35" height="1.35" fill="#111"/>
<rect x="44.77" y="12.92" width="1.35" height="1.35" fill="#111"/>
<rect x="32.71" y="16.39" width="1.35" height="1.35" fill="#111"/>
<rect x="46.51" y="15.64" width="1.35" height="1.35" fill="#111"/>
<rect x="40.72" y="35.25" width="1.35" height="1.35" fill="#111"/>
<rect x="35.78" y="23.28" width="1.35" height="1.35" fill="#111"/>
<rect x="52.83" y="2.33" width="1.35" height="1.35" fill="#111"/>
<rect x="53.93" y="2.33" width="1.35" height="1.35" fill="#111"/>
<rect x="21.33" y="54.33" width="1.35" height="1.35" fill="#111"/>
<rect x="22.53" y="54.33" width="1.35" height="1.35" fill="#111"/>
<rect x="1.33" y="35.33" width="1.35" height="1.35" fill="#111"/>
<rect x="1.33" y="36.63" width="1.35" height="1.35" fill="#111"/>
<rect x="5.83" y="34.83" width="1.35" height="1.35" fill="#111"/>
<rect x="6.93" y="34.63" width="1.35" height="1.35" fill="#111"/>
</g></g>
<rect x="542.64" y="339.70" width="57.0" height="57.0" fill="none" stroke="#1a1a1a" stroke-width="1.1"/>
<g transform="translate(609.71,339.70)"><g>
<g clip-path="url(#pclip)">
<polygon points="-3,60 -3,37 8,35.5 17,32.5 31,23.5 42,16 55,2.5 56.5,4 47.5,13.5 42,19.5 33.5,30.5 27,41.5 23,57 22,60" fill="url(#scg)" filter="url(#blur)"/>
<rect x="-3" y="25" width="45" height="35" fill="url(#scr)"/>
<polygon points="-2,36 10,35 14,40 6,46 -2,46" fill="#fff" opacity="0.35" filter="url(#blur)"/>
<rect x="0" y="48.8" width="21" height="2.0" fill="#2464a4" opacity="0.5" filter="url(#blur1)"/>
<rect x="0" y="54.6" width="22" height="2.6" fill="#1a5494" opacity="0.6" filter="url(#blur1)"/>
<rect x="1.8" y="38" width="1.8" height="19" fill="#2464a4" opacity="0.35" filter="url(#blur1)"/>
<rect x="7.2" y="38" width="1.6" height="19" fill="#2464a4" opacity="0.25" filter="url(#blur1)"/>
<rect x="4.4" y="35" width="1.3" height="23" fill="#fff" opacity="0.7"/>
<rect x="0" y="52.2" width="23" height="1.3" fill="#fff" opacity="0.7"/>
</g>
<rect x="36.95" y="18.09" width="1.35" height="1.35" fill="#111"/>
<rect x="51.21" y="5.91" width="1.35" height="1.35" fill="#111"/>
<rect x="1.90" y="35.65" width="1.35" height="1.35" fill="#111"/>
<rect x="38.44" y="16.11" width="1.35" height="1.35" fill="#111"/>
<rect x="28.52" y="22.97" width="1.35" height="1.35" fill="#111"/>
<rect x="33.62" y="18.84" width="1.35" height="1.35" fill="#111"/>
<rect x="19.15" y="29.86" width="1.35" height="1.35" fill="#111"/>
<rect x="11.64" y="32.03" width="1.35" height="1.35" fill="#111"/>
<rect x="35.94" y="17.00" width="1.35" height="1.35" fill="#111"/>
<rect x="47.58" y="7.65" width="1.35" height="1.35" fill="#111"/>
<rect x="53.04" y="3.30" width="1.35" height="1.35" fill="#111"/>
<rect x="51.77" y="4.76" width="1.35" height="1.35" fill="#111"/>
<rect x="14.75" y="31.94" width="1.35" height="1.35" fill="#111"/>
<rect x="52.41" y="3.95" width="1.35" height="1.35" fill="#111"/>
<rect x="22.70" y="26.01" width="1.35" height="1.35" fill="#111"/>
<rect x="4.49" y="34.58" width="1.35" height="1.35" fill="#111"/>
<rect x="-0.08" y="35.10" width="1.35" height="1.35" fill="#111"/>
<rect x="20.71" y="28.33" width="1.35" height="1.35" fill="#111"/>
<rect x="20.62" y="28.49" width="1.35" height="1.35" fill="#111"/>
<rect x="4.69" y="33.77" width="1.35" height="1.35" fill="#111"/>
<rect x="43.16" y="12.30" width="1.35" height="1.35" fill="#111"/>
<rect x="44.21" y="11.64" width="1.35" height="1.35" fill="#111"/>
<rect x="-0.30" y="34.75" width="1.35" height="1.35" fill="#111"/>
<rect x="51.09" y="5.14" width="1.35" height="1.35" fill="#111"/>
<rect x="50.92" y="5.50" width="1.35" height="1.35" fill="#111"/>
<rect x="22.79" y="27.24" width="1.35" height="1.35" fill="#111"/>
<rect x="8.13" y="34.24" width="1.35" height="1.35" fill="#111"/>
<rect x="46.88" y="9.29" width="1.35" height="1.35" fill="#111"/>
<rect x="6.45" y="34.24" width="1.35" height="1.35" fill="#111"/>
<rect x="49.71" y="6.90" width="1.35" height="1.35" fill="#111"/>
<rect x="32.52" y="19.99" width="1.35" height="1.35" fill="#111"/>
<rect x="11.95" y="31.66" width="1.35" height="1.35" fill="#111"/>
<rect x="40.56" y="14.82" width="1.35" height="1.35" fill="#111"/>
<rect x="4.06" y="34.71" width="1.35" height="1.35" fill="#111"/>
<rect x="25.18" y="25.19" width="1.35" height="1.35" fill="#111"/>
<rect x="45.96" y="9.81" width="1.35" height="1.35" fill="#111"/>
<rect x="4.52" y="33.80" width="1.35" height="1.35" fill="#111"/>
<rect x="30.52" y="21.48" width="1.35" height="1.35" fill="#111"/>
<rect x="42.51" y="14.03" width="1.35" height="1.35" fill="#111"/>
<rect x="43.91" y="11.40" width="1.35" height="1.35" fill="#111"/>
<rect x="48.60" y="10.30" width="1.35" height="1.35" fill="#111"/>
<rect x="36.87" y="26.06" width="1.35" height="1.35" fill="#111"/>
<rect x="21.85" y="54.86" width="1.35" height="1.35" fill="#111"/>
<rect x="26.21" y="39.65" width="1.35" height="1.35" fill="#111"/>
<rect x="37.04" y="22.82" width="1.35" height="1.35" fill="#111"/>
<rect x="22.65" y="55.83" width="1.35" height="1.35" fill="#111"/>
<rect x="33.80" y="27.16" width="1.35" height="1.35" fill="#111"/>
<rect x="43.42" y="17.09" width="1.35" height="1.35" fill="#111"/>
<rect x="39.93" y="21.32" width="1.35" height="1.35" fill="#111"/>
<rect x="27.75" y="38.54" width="1.35" height="1.35" fill="#111"/>
<rect x="39.69" y="20.63" width="1.35" height="1.35" fill="#111"/>
<rect x="35.18" y="27.44" width="1.35" height="1.35" fill="#111"/>
<rect x="42.85" y="17.76" width="1.35" height="1.35" fill="#111"/>
<rect x="30.27" y="32.12" width="1.35" height="1.35" fill="#111"/>
<rect x="44.10" y="15.42" width="1.35" height="1.35" fill="#111"/>
<rect x="24.95" y="45.69" width="1.35" height="1.35" fill="#111"/>
<rect x="40.15" y="20.58" width="1.35" height="1.35" fill="#111"/>
<rect x="24.16" y="46.46" width="1.35" height="1.35" fill="#111"/>
<rect x="24.12" y="49.21" width="1.35" height="1.35" fill="#111"/>
<rect x="22.31" y="53.74" width="1.35" height="1.35" fill="#111"/>
<rect x="47.91" y="12.16" width="1.35" height="1.35" fill="#111"/>
<rect x="35.34" y="27.06" width="1.35" height="1.35" fill="#111"/>
<rect x="25.57" y="40.47" width="1.35" height="1.35" fill="#111"/>
<rect x="31.57" y="31.93" width="1.35" height="1.35" fill="#111"/>
<rect x="30.35" y="34.56" width="1.35" height="1.35" fill="#111"/>
<rect x="25.61" y="38.95" width="1.35" height="1.35" fill="#111"/>
<rect x="36.63" y="24.44" width="1.35" height="1.35" fill="#111"/>
<rect x="27.97" y="36.93" width="1.35" height="1.35" fill="#111"/>
<rect x="46.83" y="7.76" width="1.35" height="1.35" fill="#111"/>
<rect x="50.46" y="4.01" width="1.35" height="1.35" fill="#111"/>
<rect x="49.02" y="5.59" width="1.35" height="1.35" fill="#111"/>
<rect x="48.89" y="8.25" width="1.35" height="1.35" fill="#111"/>
<rect x="51.18" y="4.74" width="1.35" height="1.35" fill="#111"/>
<rect x="47.65" y="8.02" width="1.35" height="1.35" fill="#111"/>
<rect x="52.18" y="4.36" width="1.35" height="1.35" fill="#111"/>
<rect x="52.31" y="2.56" width="1.35" height="1.35" fill="#111"/>
<rect x="46.44" y="10.24" width="1.35" height="1.35" fill="#111"/>
<rect x="43.68" y="14.71" width="1.35" height="1.35" fill="#111"/>
<rect x="45.59" y="29.10" width="1.35" height="1.35" fill="#111"/>
<rect x="36.72" y="17.60" width="1.35" height="1.35" fill="#111"/>
<rect x="41.25" y="27.30" width="1.35" height="1.35" fill="#111"/>
<rect x="48.47" y="36.59" width="1.35" height="1.35" fill="#111"/>
<rect x="52.83" y="2.33" width="1.35" height="1.35" fill="#111"/>
<rect x="53.93" y="2.33" width="1.35" height="1.35" fill="#111"/>
<rect x="21.33" y="54.33" width="1.35" height="1.35" fill="#111"/>
<rect x="22.53" y="54.33" width="1.35" height="1.35" fill="#111"/>
<rect x="1.33" y="35.33" width="1.35" height="1.35" fill="#111"/>
<rect x="1.33" y="36.63" width="1.35" height="1.35" fill="#111"/>
<rect x="5.83" y="34.83" width="1.35" height="1.35" fill="#111"/>
<rect x="6.93" y="34.63" width="1.35" height="1.35" fill="#111"/>
</g></g>
<rect x="609.71" y="339.70" width="57.0" height="57.0" fill="none" stroke="#1a1a1a" stroke-width="1.1"/>
<rect x="408.50" y="406.60" width="57.0" height="57.0" fill="none" stroke="#1a1a1a" stroke-width="1.1"/>
<text x="437.00" y="439.30" font-size="12.0" fill="#000" text-anchor="middle" stroke="#000" stroke-width="0.32">R = 0.8</text>
<rect x="475.57" y="406.60" width="57.0" height="57.0" fill="none" stroke="#1a1a1a" stroke-width="1.1"/>
<text x="504.07" y="439.30" font-size="12.0" fill="#000" text-anchor="middle" stroke="#000" stroke-width="0.32">Cell #2</text>
<g transform="translate(542.64,406.60)"><g>
<g clip-path="url(#pclip)">
<polygon points="-3,60 -3,37 8,35.5 17,32.5 31,23.5 42,16 55,2.5 56.5,4 47.5,13.5 42,19.5 33.5,30.5 27,41.5 23,57 22,60" fill="url(#scg)" filter="url(#blur)"/>
<rect x="-3" y="25" width="45" height="35" fill="url(#scr)"/>
<polygon points="-2,36 10,35 14,40 6,46 -2,46" fill="#fff" opacity="0.35" filter="url(#blur)"/>
<rect x="0" y="48.8" width="21" height="2.0" fill="#2464a4" opacity="0.5" filter="url(#blur1)"/>
<rect x="0" y="54.6" width="22" height="2.6" fill="#1a5494" opacity="0.6" filter="url(#blur1)"/>
<rect x="1.8" y="38" width="1.8" height="19" fill="#2464a4" opacity="0.35" filter="url(#blur1)"/>
<rect x="7.2" y="38" width="1.6" height="19" fill="#2464a4" opacity="0.25" filter="url(#blur1)"/>
<rect x="4.4" y="35" width="1.3" height="23" fill="#fff" opacity="0.7"/>
<rect x="0" y="52.2" width="23" height="1.3" fill="#fff" opacity="0.7"/>
</g>
<rect x="36.95" y="18.09" width="1.35" height="1.35" fill="#111"/>
<rect x="51.21" y="5.91" width="1.35" height="1.35" fill="#111"/>
<rect x="1.90" y="35.65" width="1.35" height="1.35" fill="#111"/>
<rect x="38.44" y="16.11" width="1.35" height="1.35" fill="#111"/>
<rect x="28.52" y="22.97" width="1.35" height="1.35" fill="#111"/>
<rect x="33.62" y="18.84" width="1.35" height="1.35" fill="#111"/>
<rect x="19.15" y="29.86" width="1.35" height="1.35" fill="#111"/>
<rect x="11.64" y="32.03" width="1.35" height="1.35" fill="#111"/>
<rect x="35.94" y="17.00" width="1.35" height="1.35" fill="#111"/>
<rect x="47.58" y="7.65" width="1.35" height="1.35" fill="#111"/>
<rect x="53.04" y="3.30" width="1.35" height="1.35" fill="#111"/>
<rect x="51.77" y="4.76" width="1.35" height="1.35" fill="#111"/>
<rect x="14.75" y="31.94" width="1.35" height="1.35" fill="#111"/>
<rect x="52.41" y="3.95" width="1.35" height="1.35" fill="#111"/>
<rect x="22.70" y="26.01" width="1.35" height="1.35" fill="#111"/>
<rect x="4.49" y="34.58" width="1.35" height="1.35" fill="#111"/>
<rect x="-0.08" y="35.10" width="1.35" height="1.35" fill="#111"/>
<rect x="20.71" y="28.33" width="1.35" height="1.35" fill="#111"/>
<rect x="20.62" y="28.49" width="1.35" height="1.35" fill="#111"/>
<rect x="4.69" y="33.77" width="1.35" height="1.35" fill="#111"/>
<rect x="43.16" y="12.30" width="1.35" height="1.35" fill="#111"/>
<rect x="44.21" y="11.64" width="1.35" height="1.35" fill="#111"/>
<rect x="-0.30" y="34.75" width="1.35" height="1.35" fill="#111"/>
<rect x="51.09" y="5.14" width="1.35" height="1.35" fill="#111"/>
<rect x="50.92" y="5.50" width="1.35" height="1.35" fill="#111"/>
<rect x="22.79" y="27.24" width="1.35" height="1.35" fill="#111"/>
<rect x="8.13" y="34.24" width="1.35" height="1.35" fill="#111"/>
<rect x="46.88" y="9.29" width="1.35" height="1.35" fill="#111"/>
<rect x="6.45" y="34.24" width="1.35" height="1.35" fill="#111"/>
<rect x="49.71" y="6.90" width="1.35" height="1.35" fill="#111"/>
<rect x="32.52" y="19.99" width="1.35" height="1.35" fill="#111"/>
<rect x="11.95" y="31.66" width="1.35" height="1.35" fill="#111"/>
<rect x="40.56" y="14.82" width="1.35" height="1.35" fill="#111"/>
<rect x="4.06" y="34.71" width="1.35" height="1.35" fill="#111"/>
<rect x="25.18" y="25.19" width="1.35" height="1.35" fill="#111"/>
<rect x="45.96" y="9.81" width="1.35" height="1.35" fill="#111"/>
<rect x="4.52" y="33.80" width="1.35" height="1.35" fill="#111"/>
<rect x="30.52" y="21.48" width="1.35" height="1.35" fill="#111"/>
<rect x="42.51" y="14.03" width="1.35" height="1.35" fill="#111"/>
<rect x="43.91" y="11.40" width="1.35" height="1.35" fill="#111"/>
<rect x="48.60" y="10.30" width="1.35" height="1.35" fill="#111"/>
<rect x="36.87" y="26.06" width="1.35" height="1.35" fill="#111"/>
<rect x="21.85" y="54.86" width="1.35" height="1.35" fill="#111"/>
<rect x="26.21" y="39.65" width="1.35" height="1.35" fill="#111"/>
<rect x="37.04" y="22.82" width="1.35" height="1.35" fill="#111"/>
<rect x="22.65" y="55.83" width="1.35" height="1.35" fill="#111"/>
<rect x="33.80" y="27.16" width="1.35" height="1.35" fill="#111"/>
<rect x="43.42" y="17.09" width="1.35" height="1.35" fill="#111"/>
<rect x="39.93" y="21.32" width="1.35" height="1.35" fill="#111"/>
<rect x="27.75" y="38.54" width="1.35" height="1.35" fill="#111"/>
<rect x="39.69" y="20.63" width="1.35" height="1.35" fill="#111"/>
<rect x="35.18" y="27.44" width="1.35" height="1.35" fill="#111"/>
<rect x="42.85" y="17.76" width="1.35" height="1.35" fill="#111"/>
<rect x="30.27" y="32.12" width="1.35" height="1.35" fill="#111"/>
<rect x="44.10" y="15.42" width="1.35" height="1.35" fill="#111"/>
<rect x="24.95" y="45.69" width="1.35" height="1.35" fill="#111"/>
<rect x="40.15" y="20.58" width="1.35" height="1.35" fill="#111"/>
<rect x="24.16" y="46.46" width="1.35" height="1.35" fill="#111"/>
<rect x="24.12" y="49.21" width="1.35" height="1.35" fill="#111"/>
<rect x="22.31" y="53.74" width="1.35" height="1.35" fill="#111"/>
<rect x="47.91" y="12.16" width="1.35" height="1.35" fill="#111"/>
<rect x="35.34" y="27.06" width="1.35" height="1.35" fill="#111"/>
<rect x="25.57" y="40.47" width="1.35" height="1.35" fill="#111"/>
<rect x="31.57" y="31.93" width="1.35" height="1.35" fill="#111"/>
<rect x="30.35" y="34.56" width="1.35" height="1.35" fill="#111"/>
<rect x="25.61" y="38.95" width="1.35" height="1.35" fill="#111"/>
<rect x="36.63" y="24.44" width="1.35" height="1.35" fill="#111"/>
<rect x="27.97" y="36.93" width="1.35" height="1.35" fill="#111"/>
<rect x="46.83" y="7.76" width="1.35" height="1.35" fill="#111"/>
<rect x="50.46" y="4.01" width="1.35" height="1.35" fill="#111"/>
<rect x="49.02" y="5.59" width="1.35" height="1.35" fill="#111"/>
<rect x="48.89" y="8.25" width="1.35" height="1.35" fill="#111"/>
<rect x="51.18" y="4.74" width="1.35" height="1.35" fill="#111"/>
<rect x="47.65" y="8.02" width="1.35" height="1.35" fill="#111"/>
<rect x="52.18" y="4.36" width="1.35" height="1.35" fill="#111"/>
<rect x="52.31" y="2.56" width="1.35" height="1.35" fill="#111"/>
<rect x="46.44" y="10.24" width="1.35" height="1.35" fill="#111"/>
<rect x="43.68" y="14.71" width="1.35" height="1.35" fill="#111"/>
<rect x="45.59" y="29.10" width="1.35" height="1.35" fill="#111"/>
<rect x="36.72" y="17.60" width="1.35" height="1.35" fill="#111"/>
<rect x="41.25" y="27.30" width="1.35" height="1.35" fill="#111"/>
<rect x="48.47" y="36.59" width="1.35" height="1.35" fill="#111"/>
<rect x="52.83" y="2.33" width="1.35" height="1.35" fill="#111"/>
<rect x="53.93" y="2.33" width="1.35" height="1.35" fill="#111"/>
<rect x="21.33" y="54.33" width="1.35" height="1.35" fill="#111"/>
<rect x="22.53" y="54.33" width="1.35" height="1.35" fill="#111"/>
<rect x="1.33" y="35.33" width="1.35" height="1.35" fill="#111"/>
<rect x="1.33" y="36.63" width="1.35" height="1.35" fill="#111"/>
<rect x="5.83" y="34.83" width="1.35" height="1.35" fill="#111"/>
<rect x="6.93" y="34.63" width="1.35" height="1.35" fill="#111"/>
</g></g>
<rect x="542.64" y="406.60" width="57.0" height="57.0" fill="none" stroke="#1a1a1a" stroke-width="1.1"/>
<g transform="translate(609.71,406.60)"><g>
<g clip-path="url(#pclip)">
<polygon points="-3,60 -3,37 8,35.5 17,32.5 31,23.5 42,16 55,2.5 56.5,4 47.5,13.5 42,19.5 33.5,30.5 27,41.5 23,57 22,60" fill="url(#scg)" filter="url(#blur)"/>
<rect x="-3" y="25" width="45" height="35" fill="url(#scr)"/>
<polygon points="-2,36 10,35 14,40 6,46 -2,46" fill="#fff" opacity="0.35" filter="url(#blur)"/>
<rect x="0" y="48.8" width="21" height="2.0" fill="#2464a4" opacity="0.5" filter="url(#blur1)"/>
<rect x="0" y="54.6" width="22" height="2.6" fill="#1a5494" opacity="0.6" filter="url(#blur1)"/>
<rect x="1.8" y="38" width="1.8" height="19" fill="#2464a4" opacity="0.35" filter="url(#blur1)"/>
<rect x="7.2" y="38" width="1.6" height="19" fill="#2464a4" opacity="0.25" filter="url(#blur1)"/>
<rect x="4.4" y="35" width="1.3" height="23" fill="#fff" opacity="0.7"/>
<rect x="0" y="52.2" width="23" height="1.3" fill="#fff" opacity="0.7"/>
</g>
<rect x="12.90" y="31.87" width="1.35" height="1.35" fill="#111"/>
<rect x="13.77" y="31.77" width="1.35" height="1.35" fill="#111"/>
<rect x="29.34" y="22.16" width="1.35" height="1.35" fill="#111"/>
<rect x="17.45" y="30.07" width="1.35" height="1.35" fill="#111"/>
<rect x="39.59" y="16.43" width="1.35" height="1.35" fill="#111"/>
<rect x="50.67" y="4.75" width="1.35" height="1.35" fill="#111"/>
<rect x="42.19" y="13.21" width="1.35" height="1.35" fill="#111"/>
<rect x="39.83" y="16.29" width="1.35" height="1.35" fill="#111"/>
<rect x="14.71" y="30.60" width="1.35" height="1.35" fill="#111"/>
<rect x="51.98" y="4.27" width="1.35" height="1.35" fill="#111"/>
<rect x="32.49" y="20.58" width="1.35" height="1.35" fill="#111"/>
<rect x="46.10" y="9.66" width="1.35" height="1.35" fill="#111"/>
<rect x="8.27" y="34.29" width="1.35" height="1.35" fill="#111"/>
<rect x="10.56" y="33.14" width="1.35" height="1.35" fill="#111"/>
<rect x="10.98" y="32.89" width="1.35" height="1.35" fill="#111"/>
<rect x="27.03" y="23.95" width="1.35" height="1.35" fill="#111"/>
<rect x="7.61" y="34.06" width="1.35" height="1.35" fill="#111"/>
<rect x="32.00" y="21.16" width="1.35" height="1.35" fill="#111"/>
<rect x="45.97" y="9.38" width="1.35" height="1.35" fill="#111"/>
<rect x="10.10" y="32.19" width="1.35" height="1.35" fill="#111"/>
<rect x="37.98" y="16.27" width="1.35" height="1.35" fill="#111"/>
<rect x="49.73" y="7.00" width="1.35" height="1.35" fill="#111"/>
<rect x="45.88" y="10.32" width="1.35" height="1.35" fill="#111"/>
<rect x="52.25" y="3.84" width="1.35" height="1.35" fill="#111"/>
<rect x="48.45" y="8.09" width="1.35" height="1.35" fill="#111"/>
<rect x="12.61" y="31.77" width="1.35" height="1.35" fill="#111"/>
<rect x="25.26" y="24.78" width="1.35" height="1.35" fill="#111"/>
<rect x="22.29" y="27.05" width="1.35" height="1.35" fill="#111"/>
<rect x="9.65" y="33.42" width="1.35" height="1.35" fill="#111"/>
<rect x="1.12" y="34.54" width="1.35" height="1.35" fill="#111"/>
<rect x="11.78" y="32.78" width="1.35" height="1.35" fill="#111"/>
<rect x="26.60" y="24.43" width="1.35" height="1.35" fill="#111"/>
<rect x="27.82" y="23.67" width="1.35" height="1.35" fill="#111"/>
<rect x="43.53" y="12.07" width="1.35" height="1.35" fill="#111"/>
<rect x="36.00" y="17.90" width="1.35" height="1.35" fill="#111"/>
<rect x="48.62" y="7.36" width="1.35" height="1.35" fill="#111"/>
<rect x="12.45" y="33.07" width="1.35" height="1.35" fill="#111"/>
<rect x="41.66" y="13.17" width="1.35" height="1.35" fill="#111"/>
<rect x="46.58" y="10.31" width="1.35" height="1.35" fill="#111"/>
<rect x="42.72" y="13.68" width="1.35" height="1.35" fill="#111"/>
<rect x="22.25" y="51.41" width="1.35" height="1.35" fill="#111"/>
<rect x="24.66" y="47.07" width="1.35" height="1.35" fill="#111"/>
<rect x="48.26" y="9.84" width="1.35" height="1.35" fill="#111"/>
<rect x="50.92" y="6.65" width="1.35" height="1.35" fill="#111"/>
<rect x="23.05" y="52.34" width="1.35" height="1.35" fill="#111"/>
<rect x="37.62" y="23.61" width="1.35" height="1.35" fill="#111"/>
<rect x="20.63" y="56.74" width="1.35" height="1.35" fill="#111"/>
<rect x="23.99" y="43.97" width="1.35" height="1.35" fill="#111"/>
<rect x="42.24" y="16.02" width="1.35" height="1.35" fill="#111"/>
<rect x="48.77" y="9.90" width="1.35" height="1.35" fill="#111"/>
<rect x="50.27" y="9.10" width="1.35" height="1.35" fill="#111"/>
<rect x="44.02" y="16.37" width="1.35" height="1.35" fill="#111"/>
<rect x="32.13" y="29.70" width="1.35" height="1.35" fill="#111"/>
<rect x="24.44" y="49.45" width="1.35" height="1.35" fill="#111"/>
<rect x="48.34" y="10.62" width="1.35" height="1.35" fill="#111"/>
<rect x="39.34" y="21.22" width="1.35" height="1.35" fill="#111"/>
<rect x="33.79" y="29.78" width="1.35" height="1.35" fill="#111"/>
<rect x="24.29" y="47.71" width="1.35" height="1.35" fill="#111"/>
<rect x="53.31" y="5.04" width="1.35" height="1.35" fill="#111"/>
<rect x="47.26" y="11.86" width="1.35" height="1.35" fill="#111"/>
<rect x="38.50" y="23.02" width="1.35" height="1.35" fill="#111"/>
<rect x="30.92" y="31.47" width="1.35" height="1.35" fill="#111"/>
<rect x="48.57" y="9.41" width="1.35" height="1.35" fill="#111"/>
<rect x="49.14" y="9.56" width="1.35" height="1.35" fill="#111"/>
<rect x="53.00" y="4.85" width="1.35" height="1.35" fill="#111"/>
<rect x="33.19" y="27.86" width="1.35" height="1.35" fill="#111"/>
<rect x="33.60" y="27.46" width="1.35" height="1.35" fill="#111"/>
<rect x="51.62" y="6.78" width="1.35" height="1.35" fill="#111"/>
<rect x="47.64" y="8.90" width="1.35" height="1.35" fill="#111"/>
<rect x="41.73" y="16.61" width="1.35" height="1.35" fill="#111"/>
<rect x="52.67" y="4.61" width="1.35" height="1.35" fill="#111"/>
<rect x="45.83" y="9.29" width="1.35" height="1.35" fill="#111"/>
<rect x="43.88" y="14.52" width="1.35" height="1.35" fill="#111"/>
<rect x="49.23" y="9.47" width="1.35" height="1.35" fill="#111"/>
<rect x="52.17" y="2.94" width="1.35" height="1.35" fill="#111"/>
<rect x="52.08" y="4.31" width="1.35" height="1.35" fill="#111"/>
<rect x="51.04" y="5.35" width="1.35" height="1.35" fill="#111"/>
<rect x="49.11" y="5.64" width="1.35" height="1.35" fill="#111"/>
<rect x="46.18" y="21.91" width="1.35" height="1.35" fill="#111"/>
<rect x="47.98" y="30.13" width="1.35" height="1.35" fill="#111"/>
<rect x="40.11" y="34.92" width="1.35" height="1.35" fill="#111"/>
<rect x="36.79" y="15.14" width="1.35" height="1.35" fill="#111"/>
<rect x="52.83" y="2.33" width="1.35" height="1.35" fill="#111"/>
<rect x="53.93" y="2.33" width="1.35" height="1.35" fill="#111"/>
<rect x="21.33" y="54.33" width="1.35" height="1.35" fill="#111"/>
<rect x="22.53" y="54.33" width="1.35" height="1.35" fill="#111"/>
<rect x="1.33" y="35.33" width="1.35" height="1.35" fill="#111"/>
<rect x="1.33" y="36.63" width="1.35" height="1.35" fill="#111"/>
<rect x="5.83" y="34.83" width="1.35" height="1.35" fill="#111"/>
<rect x="6.93" y="34.63" width="1.35" height="1.35" fill="#111"/>
</g></g>
<rect x="609.71" y="406.60" width="57.0" height="57.0" fill="none" stroke="#1a1a1a" stroke-width="1.1"/>
<rect x="408.50" y="473.60" width="57.0" height="57.0" fill="none" stroke="#1a1a1a" stroke-width="1.1"/>
<text x="437.00" y="506.30" font-size="12.0" fill="#000" text-anchor="middle" stroke="#000" stroke-width="0.32">R = 0.8</text>
<rect x="475.57" y="473.60" width="57.0" height="57.0" fill="none" stroke="#1a1a1a" stroke-width="1.1"/>
<text x="504.07" y="506.30" font-size="12.0" fill="#000" text-anchor="middle" stroke="#000" stroke-width="0.32">R = 0.79</text>
<rect x="542.64" y="473.60" width="57.0" height="57.0" fill="none" stroke="#1a1a1a" stroke-width="1.1"/>
<text x="571.14" y="506.30" font-size="12.0" fill="#000" text-anchor="middle" stroke="#000" stroke-width="0.32">Cell #3</text>
<g transform="translate(609.71,473.60)"><g>
<g clip-path="url(#pclip)">
<polygon points="-3,60 -3,37 8,35.5 17,32.5 31,23.5 42,16 55,2.5 56.5,4 47.5,13.5 42,19.5 33.5,30.5 27,41.5 23,57 22,60" fill="url(#scg)" filter="url(#blur)"/>
<rect x="-3" y="25" width="45" height="35" fill="url(#scr)"/>
<polygon points="-2,36 10,35 14,40 6,46 -2,46" fill="#fff" opacity="0.35" filter="url(#blur)"/>
<rect x="0" y="48.8" width="21" height="2.0" fill="#2464a4" opacity="0.5" filter="url(#blur1)"/>
<rect x="0" y="54.6" width="22" height="2.6" fill="#1a5494" opacity="0.6" filter="url(#blur1)"/>
<rect x="1.8" y="38" width="1.8" height="19" fill="#2464a4" opacity="0.35" filter="url(#blur1)"/>
<rect x="7.2" y="38" width="1.6" height="19" fill="#2464a4" opacity="0.25" filter="url(#blur1)"/>
<rect x="4.4" y="35" width="1.3" height="23" fill="#fff" opacity="0.7"/>
<rect x="0" y="52.2" width="23" height="1.3" fill="#fff" opacity="0.7"/>
</g>
<rect x="0.07" y="35.03" width="1.35" height="1.35" fill="#111"/>
<rect x="39.26" y="14.92" width="1.35" height="1.35" fill="#111"/>
<rect x="16.26" y="30.49" width="1.35" height="1.35" fill="#111"/>
<rect x="42.55" y="12.87" width="1.35" height="1.35" fill="#111"/>
<rect x="32.20" y="20.47" width="1.35" height="1.35" fill="#111"/>
<rect x="52.69" y="2.31" width="1.35" height="1.35" fill="#111"/>
<rect x="50.69" y="4.86" width="1.35" height="1.35" fill="#111"/>
<rect x="21.27" y="28.38" width="1.35" height="1.35" fill="#111"/>
<rect x="14.24" y="31.65" width="1.35" height="1.35" fill="#111"/>
<rect x="33.40" y="20.75" width="1.35" height="1.35" fill="#111"/>
<rect x="22.44" y="27.31" width="1.35" height="1.35" fill="#111"/>
<rect x="52.31" y="3.75" width="1.35" height="1.35" fill="#111"/>
<rect x="47.98" y="7.78" width="1.35" height="1.35" fill="#111"/>
<rect x="45.03" y="10.66" width="1.35" height="1.35" fill="#111"/>
<rect x="37.22" y="16.27" width="1.35" height="1.35" fill="#111"/>
<rect x="21.54" y="27.29" width="1.35" height="1.35" fill="#111"/>
<rect x="38.26" y="17.54" width="1.35" height="1.35" fill="#111"/>
<rect x="52.94" y="4.34" width="1.35" height="1.35" fill="#111"/>
<rect x="19.74" y="28.69" width="1.35" height="1.35" fill="#111"/>
<rect x="32.99" y="19.61" width="1.35" height="1.35" fill="#111"/>
<rect x="13.96" y="32.05" width="1.35" height="1.35" fill="#111"/>
<rect x="39.78" y="14.99" width="1.35" height="1.35" fill="#111"/>
<rect x="49.74" y="7.33" width="1.35" height="1.35" fill="#111"/>
<rect x="13.66" y="32.28" width="1.35" height="1.35" fill="#111"/>
<rect x="27.89" y="23.82" width="1.35" height="1.35" fill="#111"/>
<rect x="8.03" y="34.31" width="1.35" height="1.35" fill="#111"/>
<rect x="8.23" y="33.24" width="1.35" height="1.35" fill="#111"/>
<rect x="41.59" y="14.51" width="1.35" height="1.35" fill="#111"/>
<rect x="30.69" y="21.56" width="1.35" height="1.35" fill="#111"/>
<rect x="23.84" y="26.41" width="1.35" height="1.35" fill="#111"/>
<rect x="2.20" y="34.23" width="1.35" height="1.35" fill="#111"/>
<rect x="41.92" y="14.85" width="1.35" height="1.35" fill="#111"/>
<rect x="43.21" y="12.77" width="1.35" height="1.35" fill="#111"/>
<rect x="52.52" y="2.75" width="1.35" height="1.35" fill="#111"/>
<rect x="23.59" y="25.58" width="1.35" height="1.35" fill="#111"/>
<rect x="2.76" y="35.29" width="1.35" height="1.35" fill="#111"/>
<rect x="3.72" y="34.16" width="1.35" height="1.35" fill="#111"/>
<rect x="13.87" y="31.56" width="1.35" height="1.35" fill="#111"/>
<rect x="12.82" y="32.39" width="1.35" height="1.35" fill="#111"/>
<rect x="32.12" y="20.85" width="1.35" height="1.35" fill="#111"/>
<rect x="33.62" y="29.00" width="1.35" height="1.35" fill="#111"/>
<rect x="26.60" y="38.73" width="1.35" height="1.35" fill="#111"/>
<rect x="49.50" y="9.76" width="1.35" height="1.35" fill="#111"/>
<rect x="22.89" y="52.99" width="1.35" height="1.35" fill="#111"/>
<rect x="47.94" y="10.85" width="1.35" height="1.35" fill="#111"/>
<rect x="36.23" y="23.88" width="1.35" height="1.35" fill="#111"/>
<rect x="41.26" y="18.49" width="1.35" height="1.35" fill="#111"/>
<rect x="32.04" y="30.41" width="1.35" height="1.35" fill="#111"/>
<rect x="26.72" y="39.53" width="1.35" height="1.35" fill="#111"/>
<rect x="30.89" y="33.48" width="1.35" height="1.35" fill="#111"/>
<rect x="46.40" y="12.97" width="1.35" height="1.35" fill="#111"/>
<rect x="38.48" y="22.70" width="1.35" height="1.35" fill="#111"/>
<rect x="45.36" y="12.77" width="1.35" height="1.35" fill="#111"/>
<rect x="27.05" y="38.73" width="1.35" height="1.35" fill="#111"/>
<rect x="50.71" y="6.76" width="1.35" height="1.35" fill="#111"/>
<rect x="34.87" y="27.52" width="1.35" height="1.35" fill="#111"/>
<rect x="42.01" y="16.00" width="1.35" height="1.35" fill="#111"/>
<rect x="34.36" y="26.93" width="1.35" height="1.35" fill="#111"/>
<rect x="52.61" y="3.41" width="1.35" height="1.35" fill="#111"/>
<rect x="25.26" y="42.30" width="1.35" height="1.35" fill="#111"/>
<rect x="31.09" y="32.42" width="1.35" height="1.35" fill="#111"/>
<rect x="44.70" y="15.21" width="1.35" height="1.35" fill="#111"/>
<rect x="32.22" y="29.28" width="1.35" height="1.35" fill="#111"/>
<rect x="30.84" y="31.50" width="1.35" height="1.35" fill="#111"/>
<rect x="33.41" y="30.29" width="1.35" height="1.35" fill="#111"/>
<rect x="34.08" y="28.52" width="1.35" height="1.35" fill="#111"/>
<rect x="38.71" y="22.29" width="1.35" height="1.35" fill="#111"/>
<rect x="44.79" y="14.63" width="1.35" height="1.35" fill="#111"/>
<rect x="50.54" y="4.94" width="1.35" height="1.35" fill="#111"/>
<rect x="43.31" y="14.39" width="1.35" height="1.35" fill="#111"/>
<rect x="43.35" y="13.94" width="1.35" height="1.35" fill="#111"/>
<rect x="49.84" y="7.86" width="1.35" height="1.35" fill="#111"/>
<rect x="49.58" y="4.49" width="1.35" height="1.35" fill="#111"/>
<rect x="51.61" y="3.99" width="1.35" height="1.35" fill="#111"/>
<rect x="46.89" y="7.28" width="1.35" height="1.35" fill="#111"/>
<rect x="44.16" y="13.06" width="1.35" height="1.35" fill="#111"/>
<rect x="48.15" y="10.38" width="1.35" height="1.35" fill="#111"/>
<rect x="44.77" y="12.92" width="1.35" height="1.35" fill="#111"/>
<rect x="32.71" y="16.39" width="1.35" height="1.35" fill="#111"/>
<rect x="46.51" y="15.64" width="1.35" height="1.35" fill="#111"/>
<rect x="40.72" y="35.25" width="1.35" height="1.35" fill="#111"/>
<rect x="35.78" y="23.28" width="1.35" height="1.35" fill="#111"/>
<rect x="52.83" y="2.33" width="1.35" height="1.35" fill="#111"/>
<rect x="53.93" y="2.33" width="1.35" height="1.35" fill="#111"/>
<rect x="21.33" y="54.33" width="1.35" height="1.35" fill="#111"/>
<rect x="22.53" y="54.33" width="1.35" height="1.35" fill="#111"/>
<rect x="1.33" y="35.33" width="1.35" height="1.35" fill="#111"/>
<rect x="1.33" y="36.63" width="1.35" height="1.35" fill="#111"/>
<rect x="5.83" y="34.83" width="1.35" height="1.35" fill="#111"/>
<rect x="6.93" y="34.63" width="1.35" height="1.35" fill="#111"/>
</g></g>
<rect x="609.71" y="473.60" width="57.0" height="57.0" fill="none" stroke="#1a1a1a" stroke-width="1.1"/>
<rect x="408.50" y="540.60" width="57.0" height="57.0" fill="none" stroke="#1a1a1a" stroke-width="1.1"/>
<text x="437.00" y="573.30" font-size="12.0" fill="#000" text-anchor="middle" stroke="#000" stroke-width="0.32">R = 0.79</text>
<rect x="475.57" y="540.60" width="57.0" height="57.0" fill="none" stroke="#1a1a1a" stroke-width="1.1"/>
<text x="504.07" y="573.30" font-size="12.0" fill="#000" text-anchor="middle" stroke="#000" stroke-width="0.32">R = 0.78</text>
<rect x="542.64" y="540.60" width="57.0" height="57.0" fill="none" stroke="#1a1a1a" stroke-width="1.1"/>
<text x="571.14" y="573.30" font-size="12.0" fill="#000" text-anchor="middle" stroke="#000" stroke-width="0.32">R = 0.8</text>
<rect x="609.71" y="540.60" width="57.0" height="57.0" fill="none" stroke="#1a1a1a" stroke-width="1.1"/>
<text x="638.21" y="573.30" font-size="12.0" fill="#000" text-anchor="middle" stroke="#000" stroke-width="0.32">Cell #4</text>
<line x1="485.60" y1="334.50" x2="485.60" y2="339.70" stroke="#1a1a1a" stroke-width="1"/>
<text x="485.60" y="327.70" font-size="8.3" fill="#000" text-anchor="middle" stroke="#000" stroke-width="0.32">6</text>
<line x1="497.33" y1="334.50" x2="497.33" y2="339.70" stroke="#1a1a1a" stroke-width="1"/>
<line x1="509.07" y1="334.50" x2="509.07" y2="339.70" stroke="#1a1a1a" stroke-width="1"/>
<text x="509.07" y="327.70" font-size="8.3" fill="#000" text-anchor="middle" stroke="#000" stroke-width="0.32">10</text>
<line x1="520.80" y1="334.50" x2="520.80" y2="339.70" stroke="#1a1a1a" stroke-width="1"/>
<line x1="610.10" y1="334.50" x2="610.10" y2="339.70" stroke="#1a1a1a" stroke-width="1"/>
<text x="610.10" y="327.70" font-size="8.3" fill="#000" text-anchor="middle" stroke="#000" stroke-width="0.32">4</text>
<line x1="621.70" y1="334.50" x2="621.70" y2="339.70" stroke="#1a1a1a" stroke-width="1"/>
<line x1="633.30" y1="334.50" x2="633.30" y2="339.70" stroke="#1a1a1a" stroke-width="1"/>
<text x="633.30" y="327.70" font-size="8.3" fill="#000" text-anchor="middle" stroke="#000" stroke-width="0.32">8</text>
<line x1="644.90" y1="334.50" x2="644.90" y2="339.70" stroke="#1a1a1a" stroke-width="1"/>
<line x1="656.50" y1="334.50" x2="656.50" y2="339.70" stroke="#1a1a1a" stroke-width="1"/>
<text x="656.50" y="327.70" font-size="8.3" fill="#000" text-anchor="middle" stroke="#000" stroke-width="0.32">12</text>
<line x1="666.71" y1="396.40" x2="672.31" y2="396.40" stroke="#1a1a1a" stroke-width="1"/>
<text x="683.91" y="396.40" font-size="8.3" fill="#000" text-anchor="middle" stroke="#000" stroke-width="0.32" transform="rotate(-90 683.9100000000001 396.4)">4</text>
<line x1="666.71" y1="384.90" x2="672.31" y2="384.90" stroke="#1a1a1a" stroke-width="1"/>
<line x1="666.71" y1="373.40" x2="672.31" y2="373.40" stroke="#1a1a1a" stroke-width="1"/>
<text x="683.91" y="373.40" font-size="8.3" fill="#000" text-anchor="middle" stroke="#000" stroke-width="0.32" transform="rotate(-90 683.9100000000001 373.4)">8</text>
<line x1="666.71" y1="361.90" x2="672.31" y2="361.90" stroke="#1a1a1a" stroke-width="1"/>
<line x1="666.71" y1="350.40" x2="672.31" y2="350.40" stroke="#1a1a1a" stroke-width="1"/>
<text x="683.91" y="350.40" font-size="8.3" fill="#000" text-anchor="middle" stroke="#000" stroke-width="0.32" transform="rotate(-90 683.9100000000001 350.4)">12</text>
<line x1="666.71" y1="528.90" x2="672.31" y2="528.90" stroke="#1a1a1a" stroke-width="1"/>
<text x="683.91" y="528.90" font-size="8.3" fill="#000" text-anchor="middle" stroke="#000" stroke-width="0.32" transform="rotate(-90 683.9100000000001 528.9)">4</text>
<line x1="666.71" y1="517.52" x2="672.31" y2="517.52" stroke="#1a1a1a" stroke-width="1"/>
<line x1="666.71" y1="506.15" x2="672.31" y2="506.15" stroke="#1a1a1a" stroke-width="1"/>
<text x="683.91" y="506.15" font-size="8.3" fill="#000" text-anchor="middle" stroke="#000" stroke-width="0.32" transform="rotate(-90 683.9100000000001 506.15)">8</text>
<line x1="666.71" y1="494.77" x2="672.31" y2="494.77" stroke="#1a1a1a" stroke-width="1"/>
<line x1="666.71" y1="483.40" x2="672.31" y2="483.40" stroke="#1a1a1a" stroke-width="1"/>
<text x="683.91" y="483.40" font-size="8.3" fill="#000" text-anchor="middle" stroke="#000" stroke-width="0.32" transform="rotate(-90 683.9100000000001 483.4)">12</text>
<line x1="403.10" y1="453.10" x2="408.50" y2="453.10" stroke="#1a1a1a" stroke-width="1"/>
<text x="396.30" y="453.10" font-size="8.3" fill="#000" text-anchor="middle" stroke="#000" stroke-width="0.32" transform="rotate(-90 396.3 453.1)">6</text>
<line x1="403.10" y1="441.40" x2="408.50" y2="441.40" stroke="#1a1a1a" stroke-width="1"/>
<line x1="403.10" y1="429.70" x2="408.50" y2="429.70" stroke="#1a1a1a" stroke-width="1"/>
<text x="396.30" y="429.70" font-size="8.3" fill="#000" text-anchor="middle" stroke="#000" stroke-width="0.32" transform="rotate(-90 396.3 429.7)">10</text>
<line x1="403.10" y1="418.00" x2="408.50" y2="418.00" stroke="#1a1a1a" stroke-width="1"/>
<line x1="403.10" y1="596.40" x2="408.50" y2="596.40" stroke="#1a1a1a" stroke-width="1"/>
<text x="396.30" y="596.40" font-size="8.3" fill="#000" text-anchor="middle" stroke="#000" stroke-width="0.32" transform="rotate(-90 396.3 596.4)">4</text>
<line x1="403.10" y1="585.00" x2="408.50" y2="585.00" stroke="#1a1a1a" stroke-width="1"/>
<line x1="403.10" y1="573.60" x2="408.50" y2="573.60" stroke="#1a1a1a" stroke-width="1"/>
<text x="396.30" y="573.60" font-size="8.3" fill="#000" text-anchor="middle" stroke="#000" stroke-width="0.32" transform="rotate(-90 396.3 573.5999999999999)">8</text>
<line x1="403.10" y1="562.20" x2="408.50" y2="562.20" stroke="#1a1a1a" stroke-width="1"/>
<line x1="403.10" y1="550.80" x2="408.50" y2="550.80" stroke="#1a1a1a" stroke-width="1"/>
<text x="396.30" y="550.80" font-size="8.3" fill="#000" text-anchor="middle" stroke="#000" stroke-width="0.32" transform="rotate(-90 396.3 550.8)">12</text>
<line x1="409.00" y1="597.60" x2="409.00" y2="602.80" stroke="#1a1a1a" stroke-width="1"/>
<text x="409.00" y="616.30" font-size="8.3" fill="#000" text-anchor="middle" stroke="#000" stroke-width="0.32">4</text>
<line x1="420.50" y1="597.60" x2="420.50" y2="602.80" stroke="#1a1a1a" stroke-width="1"/>
<line x1="432.00" y1="597.60" x2="432.00" y2="602.80" stroke="#1a1a1a" stroke-width="1"/>
<text x="432.00" y="616.30" font-size="8.3" fill="#000" text-anchor="middle" stroke="#000" stroke-width="0.32">8</text>
<line x1="443.50" y1="597.60" x2="443.50" y2="602.80" stroke="#1a1a1a" stroke-width="1"/>
<line x1="455.00" y1="597.60" x2="455.00" y2="602.80" stroke="#1a1a1a" stroke-width="1"/>
<text x="455.00" y="616.30" font-size="8.3" fill="#000" text-anchor="middle" stroke="#000" stroke-width="0.32">12</text>
<line x1="543.80" y1="597.60" x2="543.80" y2="602.80" stroke="#1a1a1a" stroke-width="1"/>
<text x="543.80" y="616.30" font-size="8.3" fill="#000" text-anchor="middle" stroke="#000" stroke-width="0.32">4</text>
<line x1="555.30" y1="597.60" x2="555.30" y2="602.80" stroke="#1a1a1a" stroke-width="1"/>
<line x1="566.80" y1="597.60" x2="566.80" y2="602.80" stroke="#1a1a1a" stroke-width="1"/>
<text x="566.80" y="616.30" font-size="8.3" fill="#000" text-anchor="middle" stroke="#000" stroke-width="0.32">8</text>
<line x1="578.30" y1="597.60" x2="578.30" y2="602.80" stroke="#1a1a1a" stroke-width="1"/>
<line x1="589.80" y1="597.60" x2="589.80" y2="602.80" stroke="#1a1a1a" stroke-width="1"/>
<text x="589.80" y="616.30" font-size="8.3" fill="#000" text-anchor="middle" stroke="#000" stroke-width="0.32">12</text>
<text x="540.50" y="625.70" font-size="12.95" fill="#000" text-anchor="middle" stroke="#000" stroke-width="0.32">Isoform expression level</text>
<text x="384.90" y="467.00" font-size="12.95" fill="#000" text-anchor="middle" stroke="#000" stroke-width="0.32" transform="rotate(-90 384.9 467)">Isoform expression level</text>
<rect x="54.2" y="656.8" width="199.10000000000002" height="104.10000000000002" fill="#fff"/>
<line x1="54.2" x2="253.3" y1="744.60" y2="744.60" stroke="#f2f2f2" stroke-width="0.6"/>
<line x1="54.2" x2="253.3" y1="720.80" y2="720.80" stroke="#f2f2f2" stroke-width="0.6"/>
<line x1="54.2" x2="253.3" y1="697.00" y2="697.00" stroke="#f2f2f2" stroke-width="0.6"/>
<line x1="54.2" x2="253.3" y1="673.20" y2="673.20" stroke="#f2f2f2" stroke-width="0.6"/>
<line x1="54.2" x2="253.3" y1="756.50" y2="756.50" stroke="#e8e8e8" stroke-width="1.1"/>
<line x1="54.2" x2="253.3" y1="732.70" y2="732.70" stroke="#e8e8e8" stroke-width="1.1"/>
<line x1="54.2" x2="253.3" y1="708.90" y2="708.90" stroke="#e8e8e8" stroke-width="1.1"/>
<line x1="54.2" x2="253.3" y1="685.10" y2="685.10" stroke="#e8e8e8" stroke-width="1.1"/>
<line x1="54.2" x2="253.3" y1="661.30" y2="661.30" stroke="#e8e8e8" stroke-width="1.1"/>
<line x1="77.3" x2="77.3" y1="656.8" y2="760.9" stroke="#e8e8e8" stroke-width="1.1"/>
<line x1="115.5" x2="115.5" y1="656.8" y2="760.9" stroke="#e8e8e8" stroke-width="1.1"/>
<line x1="153.7" x2="153.7" y1="656.8" y2="760.9" stroke="#e8e8e8" stroke-width="1.1"/>
<line x1="192.0" x2="192.0" y1="656.8" y2="760.9" stroke="#e8e8e8" stroke-width="1.1"/>
<line x1="230.3" x2="230.3" y1="656.8" y2="760.9" stroke="#e8e8e8" stroke-width="1.1"/>
<line x1="50.7" x2="54.2" y1="756.50" y2="756.50" stroke="#333" stroke-width="1"/>
<text x="48.90" y="760.30" font-size="10.8" fill="#4d4d4d" text-anchor="end" stroke="#4d4d4d" stroke-width="0.15">0.6</text>
<line x1="50.7" x2="54.2" y1="732.70" y2="732.70" stroke="#333" stroke-width="1"/>
<text x="48.90" y="736.50" font-size="10.8" fill="#4d4d4d" text-anchor="end" stroke="#4d4d4d" stroke-width="0.15">0.7</text>
<line x1="50.7" x2="54.2" y1="708.90" y2="708.90" stroke="#333" stroke-width="1"/>
<text x="48.90" y="712.70" font-size="10.8" fill="#4d4d4d" text-anchor="end" stroke="#4d4d4d" stroke-width="0.15">0.8</text>
<line x1="50.7" x2="54.2" y1="685.10" y2="685.10" stroke="#333" stroke-width="1"/>
<text x="48.90" y="688.90" font-size="10.8" fill="#4d4d4d" text-anchor="end" stroke="#4d4d4d" stroke-width="0.15">0.9</text>
<line x1="50.7" x2="54.2" y1="661.30" y2="661.30" stroke="#333" stroke-width="1"/>
<text x="48.90" y="665.10" font-size="10.8" fill="#4d4d4d" text-anchor="end" stroke="#4d4d4d" stroke-width="0.15">1.0</text>
<line x1="77.3" x2="77.3" y1="716" y2="735" stroke="#333" stroke-width="1.1"/>
<rect x="62.699999999999996" y="722.9" width="29.2" height="6.5" fill="#e4716a" stroke="#2a2a2a" stroke-width="1.3"/>
<line x1="62.699999999999996" x2="91.89999999999999" y1="726.15" y2="726.15" stroke="#2a2a2a" stroke-width="1.1"/>
<line x1="70.72999999999999" x2="83.87" y1="726.15" y2="726.15" stroke="#2a2a2a" stroke-width="2.0"/>
<circle cx="77.3" cy="737.4" r="1.55" fill="#111"/>
<line x1="115.5" x2="115.5" y1="703.6" y2="720.3" stroke="#333" stroke-width="1.1"/>
<rect x="100.9" y="709.1" width="29.2" height="5.399999999999977" fill="#999a10" stroke="#2a2a2a" stroke-width="1.3"/>
<line x1="100.9" x2="130.1" y1="711.8" y2="711.8" stroke="#2a2a2a" stroke-width="1.1"/>
<line x1="108.93" x2="122.07" y1="711.8" y2="711.8" stroke="#2a2a2a" stroke-width="2.0"/>
<circle cx="115.5" cy="700.1" r="1.55" fill="#111"/>
<circle cx="115.5" cy="702.4" r="1.55" fill="#111"/>
<line x1="153.7" x2="153.7" y1="701" y2="720.3" stroke="#333" stroke-width="1.1"/>
<rect x="139.1" y="708" width="29.2" height="6.5" fill="#12a478" stroke="#2a2a2a" stroke-width="1.3"/>
<line x1="139.1" x2="168.29999999999998" y1="711.25" y2="711.25" stroke="#2a2a2a" stroke-width="1.1"/>
<line x1="147.13" x2="160.26999999999998" y1="711.25" y2="711.25" stroke="#2a2a2a" stroke-width="2.0"/>
<circle cx="153.7" cy="688.4" r="1.55" fill="#111"/>
<circle cx="153.7" cy="696.3" r="1.55" fill="#111"/>
<circle cx="153.7" cy="697.5" r="1.55" fill="#111"/>
<circle cx="153.7" cy="700.1" r="1.55" fill="#111"/>
<circle cx="153.7" cy="722" r="1.55" fill="#111"/>
<circle cx="153.7" cy="723.4" r="1.55" fill="#111"/>
<circle cx="153.7" cy="724.7" r="1.55" fill="#111"/>
<line x1="192.0" x2="192.0" y1="711" y2="727.5" stroke="#333" stroke-width="1.1"/>
<rect x="177.4" y="715.3" width="29.2" height="6.0" fill="#1499c8" stroke="#2a2a2a" stroke-width="1.3"/>
<line x1="177.4" x2="206.6" y1="718.3" y2="718.3" stroke="#2a2a2a" stroke-width="1.1"/>
<line x1="185.43" x2="198.57" y1="718.3" y2="718.3" stroke="#2a2a2a" stroke-width="2.0"/>
<circle cx="192.0" cy="694.3" r="1.55" fill="#111"/>
<circle cx="192.0" cy="696.9166666666666" r="1.55" fill="#111"/>
<circle cx="192.0" cy="699.5333333333333" r="1.55" fill="#111"/>
<circle cx="192.0" cy="702.15" r="1.55" fill="#111"/>
<circle cx="192.0" cy="704.7666666666667" r="1.55" fill="#111"/>
<circle cx="192.0" cy="707.3833333333333" r="1.55" fill="#111"/>
<circle cx="192.0" cy="710.0" r="1.55" fill="#111"/>
<circle cx="192.0" cy="729.3" r="1.55" fill="#111"/>
<line x1="230.3" x2="230.3" y1="710" y2="729.5" stroke="#333" stroke-width="1.1"/>
<rect x="215.70000000000002" y="716.4" width="29.2" height="7.0" fill="#d76ae2" stroke="#2a2a2a" stroke-width="1.3"/>
<line x1="215.70000000000002" x2="244.9" y1="719.9" y2="719.9" stroke="#2a2a2a" stroke-width="1.1"/>
<line x1="223.73000000000002" x2="236.87" y1="719.9" y2="719.9" stroke="#2a2a2a" stroke-width="2.0"/>
<circle cx="230.3" cy="704.8" r="1.55" fill="#111"/>
<circle cx="230.3" cy="705.8" r="1.55" fill="#111"/>
<circle cx="230.3" cy="731.8" r="1.55" fill="#111"/>
<circle cx="230.3" cy="733.6454545454545" r="1.55" fill="#111"/>
<circle cx="230.3" cy="735.4909090909091" r="1.55" fill="#111"/>
<circle cx="230.3" cy="737.3363636363636" r="1.55" fill="#111"/>
<circle cx="230.3" cy="739.1818181818181" r="1.55" fill="#111"/>
<circle cx="230.3" cy="741.0272727272727" r="1.55" fill="#111"/>
<circle cx="230.3" cy="742.8727272727273" r="1.55" fill="#111"/>
<circle cx="230.3" cy="744.7181818181818" r="1.55" fill="#111"/>
<circle cx="230.3" cy="746.5636363636364" r="1.55" fill="#111"/>
<circle cx="230.3" cy="748.4090909090909" r="1.55" fill="#111"/>
<circle cx="230.3" cy="750.2545454545455" r="1.55" fill="#111"/>
<circle cx="230.3" cy="752.1" r="1.55" fill="#111"/>
<rect x="54.2" y="656.8" width="199.10000000000002" height="104.10000000000002" fill="none" stroke="#333" stroke-width="1.1"/>
<rect x="253.3" y="656.8" width="20.899999999999977" height="104.10000000000002" fill="#d9d9d9" stroke="#333" stroke-width="1.1"/>
<text x="260.25" y="708.85" font-size="10.6" fill="#1a1a1a" text-anchor="middle" stroke="#1a1a1a" stroke-width="0.32" transform="rotate(90 260.25 708.8499999999999)">genes</text>
<rect x="54.2" y="768.2" width="199.10000000000002" height="104.79999999999995" fill="#fff"/>
<line x1="54.2" x2="253.3" y1="856.58" y2="856.58" stroke="#f2f2f2" stroke-width="0.6"/>
<line x1="54.2" x2="253.3" y1="832.52" y2="832.52" stroke="#f2f2f2" stroke-width="0.6"/>
<line x1="54.2" x2="253.3" y1="808.48" y2="808.48" stroke="#f2f2f2" stroke-width="0.6"/>
<line x1="54.2" x2="253.3" y1="784.42" y2="784.42" stroke="#f2f2f2" stroke-width="0.6"/>
<line x1="54.2" x2="253.3" y1="868.60" y2="868.60" stroke="#e8e8e8" stroke-width="1.1"/>
<line x1="54.2" x2="253.3" y1="844.55" y2="844.55" stroke="#e8e8e8" stroke-width="1.1"/>
<line x1="54.2" x2="253.3" y1="820.50" y2="820.50" stroke="#e8e8e8" stroke-width="1.1"/>
<line x1="54.2" x2="253.3" y1="796.45" y2="796.45" stroke="#e8e8e8" stroke-width="1.1"/>
<line x1="54.2" x2="253.3" y1="772.40" y2="772.40" stroke="#e8e8e8" stroke-width="1.1"/>
<line x1="77.3" x2="77.3" y1="768.2" y2="873.0" stroke="#e8e8e8" stroke-width="1.1"/>
<line x1="115.5" x2="115.5" y1="768.2" y2="873.0" stroke="#e8e8e8" stroke-width="1.1"/>
<line x1="153.7" x2="153.7" y1="768.2" y2="873.0" stroke="#e8e8e8" stroke-width="1.1"/>
<line x1="192.0" x2="192.0" y1="768.2" y2="873.0" stroke="#e8e8e8" stroke-width="1.1"/>
<line x1="230.3" x2="230.3" y1="768.2" y2="873.0" stroke="#e8e8e8" stroke-width="1.1"/>
<line x1="50.7" x2="54.2" y1="868.60" y2="868.60" stroke="#333" stroke-width="1"/>
<text x="48.90" y="872.40" font-size="10.8" fill="#4d4d4d" text-anchor="end" stroke="#4d4d4d" stroke-width="0.15">0.6</text>
<line x1="50.7" x2="54.2" y1="844.55" y2="844.55" stroke="#333" stroke-width="1"/>
<text x="48.90" y="848.35" font-size="10.8" fill="#4d4d4d" text-anchor="end" stroke="#4d4d4d" stroke-width="0.15">0.7</text>
<line x1="50.7" x2="54.2" y1="820.50" y2="820.50" stroke="#333" stroke-width="1"/>
<text x="48.90" y="824.30" font-size="10.8" fill="#4d4d4d" text-anchor="end" stroke="#4d4d4d" stroke-width="0.15">0.8</text>
<line x1="50.7" x2="54.2" y1="796.45" y2="796.45" stroke="#333" stroke-width="1"/>
<text x="48.90" y="800.25" font-size="10.8" fill="#4d4d4d" text-anchor="end" stroke="#4d4d4d" stroke-width="0.15">0.9</text>
<line x1="50.7" x2="54.2" y1="772.40" y2="772.40" stroke="#333" stroke-width="1"/>
<text x="48.90" y="776.20" font-size="10.8" fill="#4d4d4d" text-anchor="end" stroke="#4d4d4d" stroke-width="0.15">1.0</text>
<line x1="77.3" x2="77.3" y1="829.4" y2="846" stroke="#333" stroke-width="1.1"/>
<rect x="62.699999999999996" y="834.7" width="29.2" height="5.7999999999999545" fill="#e4716a" stroke="#2a2a2a" stroke-width="1.3"/>
<line x1="62.699999999999996" x2="91.89999999999999" y1="837.6" y2="837.6" stroke="#2a2a2a" stroke-width="1.1"/>
<line x1="70.72999999999999" x2="83.87" y1="837.6" y2="837.6" stroke="#2a2a2a" stroke-width="2.0"/>
<circle cx="77.3" cy="849.3" r="1.55" fill="#111"/>
<line x1="115.5" x2="115.5" y1="817.5" y2="832" stroke="#333" stroke-width="1.1"/>
<rect x="100.9" y="822.1" width="29.2" height="5.2999999999999545" fill="#999a10" stroke="#2a2a2a" stroke-width="1.3"/>
<line x1="100.9" x2="130.1" y1="824.75" y2="824.75" stroke="#2a2a2a" stroke-width="1.1"/>
<line x1="108.93" x2="122.07" y1="824.75" y2="824.75" stroke="#2a2a2a" stroke-width="2.0"/>
<circle cx="115.5" cy="814.2" r="1.55" fill="#111"/>
<circle cx="115.5" cy="833.2" r="1.55" fill="#111"/>
<line x1="153.7" x2="153.7" y1="818" y2="832" stroke="#333" stroke-width="1.1"/>
<rect x="139.1" y="823" width="29.2" height="5" fill="#12a478" stroke="#2a2a2a" stroke-width="1.3"/>
<line x1="139.1" x2="168.29999999999998" y1="825.5" y2="825.5" stroke="#2a2a2a" stroke-width="1.1"/>
<line x1="147.13" x2="160.26999999999998" y1="825.5" y2="825.5" stroke="#2a2a2a" stroke-width="2.0"/>
<circle cx="153.7" cy="807.5" r="1.55" fill="#111"/>
<circle cx="153.7" cy="815.7" r="1.55" fill="#111"/>
<circle cx="153.7" cy="816.8" r="1.55" fill="#111"/>
<circle cx="153.7" cy="833.2" r="1.55" fill="#111"/>
<circle cx="153.7" cy="835.08" r="1.55" fill="#111"/>
<circle cx="153.7" cy="836.96" r="1.55" fill="#111"/>
<circle cx="153.7" cy="838.84" r="1.55" fill="#111"/>
<circle cx="153.7" cy="840.72" r="1.55" fill="#111"/>
<circle cx="153.7" cy="842.6" r="1.55" fill="#111"/>
<line x1="192.0" x2="192.0" y1="821" y2="834" stroke="#333" stroke-width="1.1"/>
<rect x="177.4" y="826.2" width="29.2" height="4.399999999999977" fill="#1499c8" stroke="#2a2a2a" stroke-width="1.3"/>
<line x1="177.4" x2="206.6" y1="828.4000000000001" y2="828.4000000000001" stroke="#2a2a2a" stroke-width="1.1"/>
<line x1="185.43" x2="198.57" y1="828.4000000000001" y2="828.4000000000001" stroke="#2a2a2a" stroke-width="2.0"/>
<circle cx="192.0" cy="811.0" r="1.55" fill="#111"/>
<circle cx="192.0" cy="813.25" r="1.55" fill="#111"/>
<circle cx="192.0" cy="815.5" r="1.55" fill="#111"/>
<circle cx="192.0" cy="817.75" r="1.55" fill="#111"/>
<circle cx="192.0" cy="820.0" r="1.55" fill="#111"/>
<circle cx="192.0" cy="835.3" r="1.55" fill="#111"/>
<circle cx="192.0" cy="836.9333333333333" r="1.55" fill="#111"/>
<circle cx="192.0" cy="838.5666666666667" r="1.55" fill="#111"/>
<circle cx="192.0" cy="840.2" r="1.55" fill="#111"/>
<line x1="230.3" x2="230.3" y1="821" y2="842" stroke="#333" stroke-width="1.1"/>
<rect x="215.70000000000002" y="828.5" width="29.2" height="6.7999999999999545" fill="#d76ae2" stroke="#2a2a2a" stroke-width="1.3"/>
<line x1="215.70000000000002" x2="244.9" y1="831.9" y2="831.9" stroke="#2a2a2a" stroke-width="1.1"/>
<line x1="223.73000000000002" x2="236.87" y1="831.9" y2="831.9" stroke="#2a2a2a" stroke-width="2.0"/>
<circle cx="230.3" cy="817.7" r="1.55" fill="#111"/>
<circle cx="230.3" cy="818.8" r="1.55" fill="#111"/>
<circle cx="230.3" cy="844.0" r="1.55" fill="#111"/>
<circle cx="230.3" cy="845.9" r="1.55" fill="#111"/>
<circle cx="230.3" cy="847.8" r="1.55" fill="#111"/>
<circle cx="230.3" cy="849.7" r="1.55" fill="#111"/>
<circle cx="230.3" cy="851.6" r="1.55" fill="#111"/>
<circle cx="230.3" cy="853.5" r="1.55" fill="#111"/>
<circle cx="230.3" cy="855.4" r="1.55" fill="#111"/>
<circle cx="230.3" cy="857.3" r="1.55" fill="#111"/>
<circle cx="230.3" cy="859.2" r="1.55" fill="#111"/>
<circle cx="230.3" cy="861.1" r="1.55" fill="#111"/>
<circle cx="230.3" cy="863.0" r="1.55" fill="#111"/>
<rect x="54.2" y="768.2" width="199.10000000000002" height="104.79999999999995" fill="none" stroke="#333" stroke-width="1.1"/>
<rect x="253.3" y="768.2" width="20.899999999999977" height="104.79999999999995" fill="#d9d9d9" stroke="#333" stroke-width="1.1"/>
<text x="260.25" y="820.60" font-size="10.6" fill="#1a1a1a" text-anchor="middle" stroke="#1a1a1a" stroke-width="0.32" transform="rotate(90 260.25 820.6)">isoforms</text>
<text x="25.10" y="766.40" font-size="12.9" fill="#000" text-anchor="middle" stroke="#000" stroke-width="0.32" transform="rotate(-90 25.1 766.4)">Pearson correlation coefficients</text>
<text x="-0.30" y="641.90" font-size="19.2" fill="#000" text-anchor="start" font-weight="bold">D</text>
<rect x="341.5" y="656.3" width="198.20000000000005" height="105.10000000000002" fill="#fff"/>
<line x1="341.5" x2="539.7" y1="744.84" y2="744.84" stroke="#f2f2f2" stroke-width="0.6"/>
<line x1="341.5" x2="539.7" y1="720.91" y2="720.91" stroke="#f2f2f2" stroke-width="0.6"/>
<line x1="341.5" x2="539.7" y1="696.99" y2="696.99" stroke="#f2f2f2" stroke-width="0.6"/>
<line x1="341.5" x2="539.7" y1="673.06" y2="673.06" stroke="#f2f2f2" stroke-width="0.6"/>
<line x1="341.5" x2="539.7" y1="756.80" y2="756.80" stroke="#e8e8e8" stroke-width="1.1"/>
<line x1="341.5" x2="539.7" y1="732.88" y2="732.88" stroke="#e8e8e8" stroke-width="1.1"/>
<line x1="341.5" x2="539.7" y1="708.95" y2="708.95" stroke="#e8e8e8" stroke-width="1.1"/>
<line x1="341.5" x2="539.7" y1="685.02" y2="685.02" stroke="#e8e8e8" stroke-width="1.1"/>
<line x1="341.5" x2="539.7" y1="661.10" y2="661.10" stroke="#e8e8e8" stroke-width="1.1"/>
<line x1="363.6" x2="363.6" y1="656.3" y2="761.4" stroke="#e8e8e8" stroke-width="1.1"/>
<line x1="401.9" x2="401.9" y1="656.3" y2="761.4" stroke="#e8e8e8" stroke-width="1.1"/>
<line x1="440.2" x2="440.2" y1="656.3" y2="761.4" stroke="#e8e8e8" stroke-width="1.1"/>
<line x1="478.5" x2="478.5" y1="656.3" y2="761.4" stroke="#e8e8e8" stroke-width="1.1"/>
<line x1="516.8" x2="516.8" y1="656.3" y2="761.4" stroke="#e8e8e8" stroke-width="1.1"/>
<line x1="338.0" x2="341.5" y1="756.80" y2="756.80" stroke="#333" stroke-width="1"/>
<text x="336.20" y="760.60" font-size="10.8" fill="#4d4d4d" text-anchor="end" stroke="#4d4d4d" stroke-width="0.15">0.6</text>
<line x1="338.0" x2="341.5" y1="732.88" y2="732.88" stroke="#333" stroke-width="1"/>
<text x="336.20" y="736.67" font-size="10.8" fill="#4d4d4d" text-anchor="end" stroke="#4d4d4d" stroke-width="0.15">0.7</text>
<line x1="338.0" x2="341.5" y1="708.95" y2="708.95" stroke="#333" stroke-width="1"/>
<text x="336.20" y="712.75" font-size="10.8" fill="#4d4d4d" text-anchor="end" stroke="#4d4d4d" stroke-width="0.15">0.8</text>
<line x1="338.0" x2="341.5" y1="685.02" y2="685.02" stroke="#333" stroke-width="1"/>
<text x="336.20" y="688.82" font-size="10.8" fill="#4d4d4d" text-anchor="end" stroke="#4d4d4d" stroke-width="0.15">0.9</text>
<line x1="338.0" x2="341.5" y1="661.10" y2="661.10" stroke="#333" stroke-width="1"/>
<text x="336.20" y="664.90" font-size="10.8" fill="#4d4d4d" text-anchor="end" stroke="#4d4d4d" stroke-width="0.15">1.0</text>
<line x1="363.6" x2="363.6" y1="707" y2="720.5" stroke="#333" stroke-width="1.1"/>
<polygon points="349.0,711.1 378.20000000000005,711.1 378.20000000000005,712.1 373.70000000000005,713.8 378.20000000000005,715.5 378.20000000000005,716.5 349.0,716.5 349.0,715.5 353.5,713.8 349.0,712.1" fill="#e4716a" stroke="#2a2a2a" stroke-width="1.3" stroke-linejoin="round"/>
<line x1="353.5" x2="373.70000000000005" y1="713.8" y2="713.8" stroke="#2a2a2a" stroke-width="1.6"/>
<line x1="401.9" x2="401.9" y1="692" y2="705.6" stroke="#333" stroke-width="1.1"/>
<polygon points="387.29999999999995,696.4 416.5,696.4 416.5,697.4 412.0,699.2 416.5,701 416.5,702 387.29999999999995,702 387.29999999999995,701 391.79999999999995,699.2 387.29999999999995,697.4" fill="#999a10" stroke="#2a2a2a" stroke-width="1.3" stroke-linejoin="round"/>
<line x1="391.79999999999995" x2="412.0" y1="699.2" y2="699.2" stroke="#2a2a2a" stroke-width="1.6"/>
<line x1="440.2" x2="440.2" y1="693" y2="707" stroke="#333" stroke-width="1.1"/>
<polygon points="425.59999999999997,697.8 454.8,697.8 454.8,698.8 450.3,700.55 454.8,702.3 454.8,703.3 425.59999999999997,703.3 425.59999999999997,702.3 430.09999999999997,700.55 425.59999999999997,698.8" fill="#12a478" stroke="#2a2a2a" stroke-width="1.3" stroke-linejoin="round"/>
<line x1="430.09999999999997" x2="450.3" y1="700.55" y2="700.55" stroke="#2a2a2a" stroke-width="1.6"/>
<circle cx="440.2" cy="681.7" r="1.55" fill="#111"/>
<circle cx="440.2" cy="685" r="1.55" fill="#111"/>
<circle cx="440.2" cy="709" r="1.55" fill="#111"/>
<circle cx="440.2" cy="714.8" r="1.55" fill="#111"/>
<circle cx="440.2" cy="716.4" r="1.55" fill="#111"/>
<line x1="478.5" x2="478.5" y1="704.2" y2="721" stroke="#333" stroke-width="1.1"/>
<polygon points="463.9,707.4 493.1,707.4 493.1,708.4 488.6,710.95 493.1,713.5 493.1,714.5 463.9,714.5 463.9,713.5 468.4,710.95 463.9,708.4" fill="#1499c8" stroke="#2a2a2a" stroke-width="1.3" stroke-linejoin="round"/>
<line x1="468.4" x2="488.6" y1="710.95" y2="710.95" stroke="#2a2a2a" stroke-width="1.6"/>
<circle cx="478.5" cy="695.6" r="1.55" fill="#111"/>
<line x1="516.8" x2="516.8" y1="707.4" y2="726" stroke="#333" stroke-width="1.1"/>
<polygon points="502.19999999999993,713.2 531.4,713.2 531.4,714.2 526.9,716.75 531.4,719.3 531.4,720.3 502.19999999999993,720.3 502.19999999999993,719.3 506.69999999999993,716.75 502.19999999999993,714.2" fill="#d76ae2" stroke="#2a2a2a" stroke-width="1.3" stroke-linejoin="round"/>
<line x1="506.69999999999993" x2="526.9" y1="716.75" y2="716.75" stroke="#2a2a2a" stroke-width="1.6"/>
<circle cx="516.8" cy="733.1" r="1.55" fill="#111"/>
<rect x="341.5" y="656.3" width="198.20000000000005" height="105.10000000000002" fill="none" stroke="#333" stroke-width="1.1"/>
<rect x="539.7" y="656.3" width="21.0" height="105.10000000000002" fill="#d9d9d9" stroke="#333" stroke-width="1.1"/>
<text x="546.70" y="708.85" font-size="10.6" fill="#1a1a1a" text-anchor="middle" stroke="#1a1a1a" stroke-width="0.32" transform="rotate(90 546.7 708.8499999999999)">genes</text>
<rect x="341.5" y="768.2" width="198.20000000000005" height="104.79999999999995" fill="#fff"/>
<line x1="341.5" x2="539.7" y1="856.80" y2="856.80" stroke="#f2f2f2" stroke-width="0.6"/>
<line x1="341.5" x2="539.7" y1="832.80" y2="832.80" stroke="#f2f2f2" stroke-width="0.6"/>
<line x1="341.5" x2="539.7" y1="808.80" y2="808.80" stroke="#f2f2f2" stroke-width="0.6"/>
<line x1="341.5" x2="539.7" y1="784.80" y2="784.80" stroke="#f2f2f2" stroke-width="0.6"/>
<line x1="341.5" x2="539.7" y1="868.80" y2="868.80" stroke="#e8e8e8" stroke-width="1.1"/>
<line x1="341.5" x2="539.7" y1="844.80" y2="844.80" stroke="#e8e8e8" stroke-width="1.1"/>
<line x1="341.5" x2="539.7" y1="820.80" y2="820.80" stroke="#e8e8e8" stroke-width="1.1"/>
<line x1="341.5" x2="539.7" y1="796.80" y2="796.80" stroke="#e8e8e8" stroke-width="1.1"/>
<line x1="341.5" x2="539.7" y1="772.80" y2="772.80" stroke="#e8e8e8" stroke-width="1.1"/>
<line x1="363.6" x2="363.6" y1="768.2" y2="873.0" stroke="#e8e8e8" stroke-width="1.1"/>
<line x1="401.9" x2="401.9" y1="768.2" y2="873.0" stroke="#e8e8e8" stroke-width="1.1"/>
<line x1="440.2" x2="440.2" y1="768.2" y2="873.0" stroke="#e8e8e8" stroke-width="1.1"/>
<line x1="478.5" x2="478.5" y1="768.2" y2="873.0" stroke="#e8e8e8" stroke-width="1.1"/>
<line x1="516.8" x2="516.8" y1="768.2" y2="873.0" stroke="#e8e8e8" stroke-width="1.1"/>
<line x1="338.0" x2="341.5" y1="868.80" y2="868.80" stroke="#333" stroke-width="1"/>
<text x="336.20" y="872.60" font-size="10.8" fill="#4d4d4d" text-anchor="end" stroke="#4d4d4d" stroke-width="0.15">0.6</text>
<line x1="338.0" x2="341.5" y1="844.80" y2="844.80" stroke="#333" stroke-width="1"/>
<text x="336.20" y="848.60" font-size="10.8" fill="#4d4d4d" text-anchor="end" stroke="#4d4d4d" stroke-width="0.15">0.7</text>
<line x1="338.0" x2="341.5" y1="820.80" y2="820.80" stroke="#333" stroke-width="1"/>
<text x="336.20" y="824.60" font-size="10.8" fill="#4d4d4d" text-anchor="end" stroke="#4d4d4d" stroke-width="0.15">0.8</text>
<line x1="338.0" x2="341.5" y1="796.80" y2="796.80" stroke="#333" stroke-width="1"/>
<text x="336.20" y="800.60" font-size="10.8" fill="#4d4d4d" text-anchor="end" stroke="#4d4d4d" stroke-width="0.15">0.9</text>
<line x1="338.0" x2="341.5" y1="772.80" y2="772.80" stroke="#333" stroke-width="1"/>
<text x="336.20" y="776.60" font-size="10.8" fill="#4d4d4d" text-anchor="end" stroke="#4d4d4d" stroke-width="0.15">1.0</text>
<line x1="363.6" x2="363.6" y1="827.8" y2="839.2" stroke="#333" stroke-width="1.1"/>
<polygon points="349.0,830.5 378.20000000000005,830.5 378.20000000000005,831.5 373.70000000000005,833.15 378.20000000000005,834.8 378.20000000000005,835.8 349.0,835.8 349.0,834.8 353.5,833.15 349.0,831.5" fill="#e4716a" stroke="#2a2a2a" stroke-width="1.3" stroke-linejoin="round"/>
<line x1="353.5" x2="373.70000000000005" y1="833.15" y2="833.15" stroke="#2a2a2a" stroke-width="1.6"/>
<line x1="401.9" x2="401.9" y1="812.5" y2="825" stroke="#333" stroke-width="1.1"/>
<polygon points="387.29999999999995,816.4 416.5,816.4 416.5,817.4 412.0,818.7 416.5,820 416.5,821 387.29999999999995,821 387.29999999999995,820 391.79999999999995,818.7 387.29999999999995,817.4" fill="#999a10" stroke="#2a2a2a" stroke-width="1.3" stroke-linejoin="round"/>
<line x1="391.79999999999995" x2="412.0" y1="818.7" y2="818.7" stroke="#2a2a2a" stroke-width="1.6"/>
<line x1="440.2" x2="440.2" y1="813.8" y2="829" stroke="#333" stroke-width="1.1"/>
<polygon points="425.59999999999997,819.4 454.8,819.4 454.8,820.4 450.3,821.9 454.8,823.4 454.8,824.4 425.59999999999997,824.4 425.59999999999997,823.4 430.09999999999997,821.9 425.59999999999997,820.4" fill="#12a478" stroke="#2a2a2a" stroke-width="1.3" stroke-linejoin="round"/>
<line x1="430.09999999999997" x2="450.3" y1="821.9" y2="821.9" stroke="#2a2a2a" stroke-width="1.6"/>
<circle cx="440.2" cy="805" r="1.55" fill="#111"/>
<circle cx="440.2" cy="808" r="1.55" fill="#111"/>
<circle cx="440.2" cy="831.6" r="1.55" fill="#111"/>
<circle cx="440.2" cy="833.5" r="1.55" fill="#111"/>
<line x1="478.5" x2="478.5" y1="819" y2="839.2" stroke="#333" stroke-width="1.1"/>
<polygon points="463.9,827 493.1,827 493.1,828 488.6,830.25 493.1,832.5 493.1,833.5 463.9,833.5 463.9,832.5 468.4,830.25 463.9,828" fill="#1499c8" stroke="#2a2a2a" stroke-width="1.3" stroke-linejoin="round"/>
<line x1="468.4" x2="488.6" y1="830.25" y2="830.25" stroke="#2a2a2a" stroke-width="1.6"/>
<circle cx="478.5" cy="818.3" r="1.55" fill="#111"/>
<line x1="516.8" x2="516.8" y1="819.4" y2="838" stroke="#333" stroke-width="1.1"/>
<polygon points="502.19999999999993,825.1 531.4,825.1 531.4,826.1 526.9,828.9000000000001 531.4,831.7 531.4,832.7 502.19999999999993,832.7 502.19999999999993,831.7 506.69999999999993,828.9000000000001 502.19999999999993,826.1" fill="#d76ae2" stroke="#2a2a2a" stroke-width="1.3" stroke-linejoin="round"/>
<line x1="506.69999999999993" x2="526.9" y1="828.9000000000001" y2="828.9000000000001" stroke="#2a2a2a" stroke-width="1.6"/>
<circle cx="516.8" cy="844.9" r="1.55" fill="#111"/>
<rect x="341.5" y="768.2" width="198.20000000000005" height="104.79999999999995" fill="none" stroke="#333" stroke-width="1.1"/>
<rect x="539.7" y="768.2" width="21.0" height="104.79999999999995" fill="#d9d9d9" stroke="#333" stroke-width="1.1"/>
<text x="546.70" y="820.60" font-size="10.6" fill="#1a1a1a" text-anchor="middle" stroke="#1a1a1a" stroke-width="0.32" transform="rotate(90 546.7 820.6)">isoforms</text>
<text x="310.00" y="766.50" font-size="12.9" fill="#000" text-anchor="middle" stroke="#000" stroke-width="0.32" transform="rotate(-90 310 766.5)">Pearson correlation coefficients</text>
<text x="310.60" y="641.90" font-size="19.2" fill="#000" text-anchor="start" font-weight="bold">E</text>
<text x="580.20" y="720.30" font-size="13.0" fill="#000" text-anchor="start" stroke="#000" stroke-width="0.32">Library</text>
<line x1="589.6" x2="589.6" y1="728.7" y2="745.3" stroke="#333" stroke-width="1" stroke-dasharray="2 1.2"/>
<rect x="582.2" y="732.2" width="15" height="9.6" fill="#F8766D" stroke="#333" stroke-width="1.1"/>
<line x1="582.2" x2="597.2" y1="737.0" y2="737.0" stroke="#333" stroke-width="1.4"/>
<text x="605.30" y="741.00" font-size="10.7" fill="#000" text-anchor="start" stroke="#000" stroke-width="0.32">CEL−seq2/A</text>
<line x1="589.6" x2="589.6" y1="747.2800000000001" y2="763.88" stroke="#333" stroke-width="1" stroke-dasharray="2 1.2"/>
<rect x="582.2" y="750.7800000000001" width="15" height="9.6" fill="#A3A500" stroke="#333" stroke-width="1.1"/>
<line x1="582.2" x2="597.2" y1="755.58" y2="755.58" stroke="#333" stroke-width="1.4"/>
<text x="605.30" y="759.58" font-size="10.7" fill="#000" text-anchor="start" stroke="#000" stroke-width="0.32">CEL−seq2/B</text>
<line x1="589.6" x2="589.6" y1="765.86" y2="782.4599999999999" stroke="#333" stroke-width="1" stroke-dasharray="2 1.2"/>
<rect x="582.2" y="769.36" width="15" height="9.6" fill="#1aaa7c" stroke="#333" stroke-width="1.1"/>
<line x1="582.2" x2="597.2" y1="774.16" y2="774.16" stroke="#333" stroke-width="1.4"/>
<text x="605.30" y="778.16" font-size="10.7" fill="#000" text-anchor="start" stroke="#000" stroke-width="0.32">SCRB−seq/A</text>
<line x1="589.6" x2="589.6" y1="784.44" y2="801.04" stroke="#333" stroke-width="1" stroke-dasharray="2 1.2"/>
<rect x="582.2" y="787.94" width="15" height="9.6" fill="#18a2cc" stroke="#333" stroke-width="1.1"/>
<line x1="582.2" x2="597.2" y1="792.74" y2="792.74" stroke="#333" stroke-width="1.4"/>
<text x="605.30" y="796.74" font-size="10.7" fill="#000" text-anchor="start" stroke="#000" stroke-width="0.32">SCRB−seq/B</text>
<line x1="589.6" x2="589.6" y1="803.02" y2="819.6199999999999" stroke="#333" stroke-width="1" stroke-dasharray="2 1.2"/>
<rect x="582.2" y="806.52" width="15" height="9.6" fill="#E76BF3" stroke="#333" stroke-width="1.1"/>
<line x1="582.2" x2="597.2" y1="811.3199999999999" y2="811.3199999999999" stroke="#333" stroke-width="1.4"/>
<text x="605.30" y="815.32" font-size="10.7" fill="#000" text-anchor="start" stroke="#000" stroke-width="0.32">Microwell−seq</text>
</svg></body></html>
